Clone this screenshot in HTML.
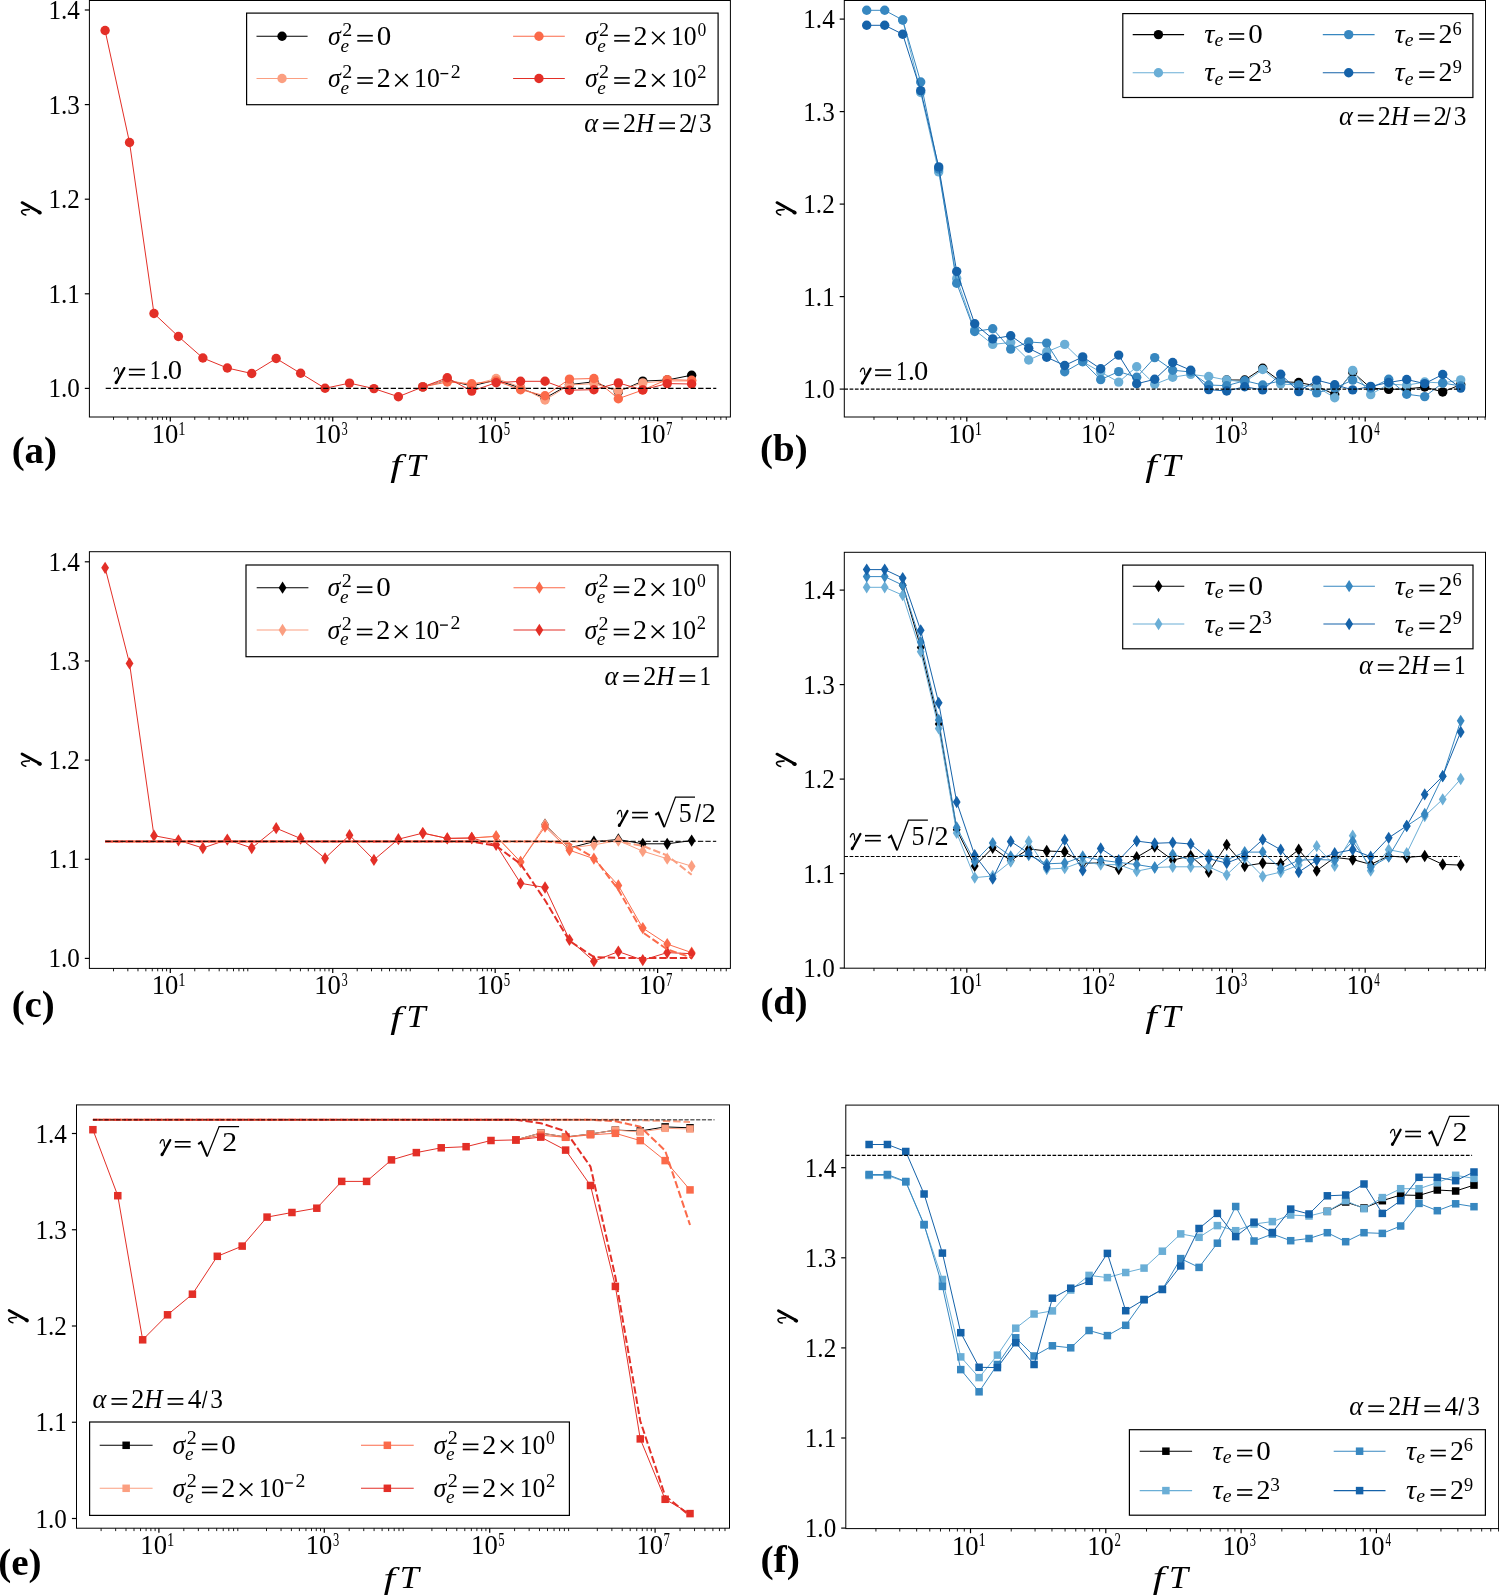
<!DOCTYPE html>
<html><head><meta charset="utf-8"><style>
html,body{margin:0;padding:0;background:#fff;overflow:hidden;}
svg{display:block;will-change:transform;}
</style></head><body>
<svg width="1499" height="1595" viewBox="0 0 1499 1595" font-family='"Liberation Serif", serif'>
<rect width="1499" height="1595" fill="#fff"/>
<rect x="89.4" y="0.5" width="641" height="416.5" fill="none" stroke="#000" stroke-width="1.0"/>
<line x1="84.8" y1="388.4" x2="89.4" y2="388.4" stroke="#000" stroke-width="1.2"/>
<text x="79.8" y="397.4" font-size="26.8" text-anchor="end" textLength="31.4" lengthAdjust="spacingAndGlyphs">1.0</text>
<line x1="84.8" y1="293.8" x2="89.4" y2="293.8" stroke="#000" stroke-width="1.2"/>
<text x="79.8" y="302.8" font-size="26.8" text-anchor="end" textLength="31.4" lengthAdjust="spacingAndGlyphs">1.1</text>
<line x1="84.8" y1="199.2" x2="89.4" y2="199.2" stroke="#000" stroke-width="1.2"/>
<text x="79.8" y="208.2" font-size="26.8" text-anchor="end" textLength="31.4" lengthAdjust="spacingAndGlyphs">1.2</text>
<line x1="84.8" y1="104.6" x2="89.4" y2="104.6" stroke="#000" stroke-width="1.2"/>
<text x="79.8" y="113.6" font-size="26.8" text-anchor="end" textLength="31.4" lengthAdjust="spacingAndGlyphs">1.3</text>
<line x1="84.8" y1="10" x2="89.4" y2="10" stroke="#000" stroke-width="1.2"/>
<text x="79.8" y="19" font-size="26.8" text-anchor="end" textLength="31.4" lengthAdjust="spacingAndGlyphs">1.4</text>
<line x1="113.53" y1="417" x2="113.53" y2="419.9" stroke="#000" stroke-width="0.9"/>
<line x1="127.83" y1="417" x2="127.83" y2="419.9" stroke="#000" stroke-width="0.9"/>
<line x1="137.98" y1="417" x2="137.98" y2="419.9" stroke="#000" stroke-width="0.9"/>
<line x1="145.85" y1="417" x2="145.85" y2="419.9" stroke="#000" stroke-width="0.9"/>
<line x1="152.28" y1="417" x2="152.28" y2="419.9" stroke="#000" stroke-width="0.9"/>
<line x1="157.72" y1="417" x2="157.72" y2="419.9" stroke="#000" stroke-width="0.9"/>
<line x1="162.43" y1="417" x2="162.43" y2="419.9" stroke="#000" stroke-width="0.9"/>
<line x1="166.58" y1="417" x2="166.58" y2="419.9" stroke="#000" stroke-width="0.9"/>
<line x1="170.3" y1="417" x2="170.3" y2="421.6" stroke="#000" stroke-width="1.2"/>
<text transform="matrix(0.9950 0 0 1 151.7 443)" font-size="26.8" fill="#000">10</text>
<text transform="matrix(0.7834 0 0 1 178.29 434.6)" font-size="18.6" fill="#000">1</text>
<line x1="194.75" y1="417" x2="194.75" y2="419.9" stroke="#000" stroke-width="0.9"/>
<line x1="209.05" y1="417" x2="209.05" y2="419.9" stroke="#000" stroke-width="0.9"/>
<line x1="219.2" y1="417" x2="219.2" y2="419.9" stroke="#000" stroke-width="0.9"/>
<line x1="227.07" y1="417" x2="227.07" y2="419.9" stroke="#000" stroke-width="0.9"/>
<line x1="233.5" y1="417" x2="233.5" y2="419.9" stroke="#000" stroke-width="0.9"/>
<line x1="238.94" y1="417" x2="238.94" y2="419.9" stroke="#000" stroke-width="0.9"/>
<line x1="243.65" y1="417" x2="243.65" y2="419.9" stroke="#000" stroke-width="0.9"/>
<line x1="247.8" y1="417" x2="247.8" y2="419.9" stroke="#000" stroke-width="0.9"/>
<line x1="275.97" y1="417" x2="275.97" y2="419.9" stroke="#000" stroke-width="0.9"/>
<line x1="290.27" y1="417" x2="290.27" y2="419.9" stroke="#000" stroke-width="0.9"/>
<line x1="300.42" y1="417" x2="300.42" y2="419.9" stroke="#000" stroke-width="0.9"/>
<line x1="308.29" y1="417" x2="308.29" y2="419.9" stroke="#000" stroke-width="0.9"/>
<line x1="314.72" y1="417" x2="314.72" y2="419.9" stroke="#000" stroke-width="0.9"/>
<line x1="320.16" y1="417" x2="320.16" y2="419.9" stroke="#000" stroke-width="0.9"/>
<line x1="324.87" y1="417" x2="324.87" y2="419.9" stroke="#000" stroke-width="0.9"/>
<line x1="329.02" y1="417" x2="329.02" y2="419.9" stroke="#000" stroke-width="0.9"/>
<line x1="332.74" y1="417" x2="332.74" y2="421.6" stroke="#000" stroke-width="1.2"/>
<text transform="matrix(0.9950 0 0 1 314.14 443)" font-size="26.8" fill="#000">10</text>
<text transform="matrix(0.6688 0 0 1 341.42 434.6)" font-size="18.6" fill="#000">3</text>
<line x1="357.19" y1="417" x2="357.19" y2="419.9" stroke="#000" stroke-width="0.9"/>
<line x1="371.49" y1="417" x2="371.49" y2="419.9" stroke="#000" stroke-width="0.9"/>
<line x1="381.64" y1="417" x2="381.64" y2="419.9" stroke="#000" stroke-width="0.9"/>
<line x1="389.51" y1="417" x2="389.51" y2="419.9" stroke="#000" stroke-width="0.9"/>
<line x1="395.94" y1="417" x2="395.94" y2="419.9" stroke="#000" stroke-width="0.9"/>
<line x1="401.38" y1="417" x2="401.38" y2="419.9" stroke="#000" stroke-width="0.9"/>
<line x1="406.09" y1="417" x2="406.09" y2="419.9" stroke="#000" stroke-width="0.9"/>
<line x1="410.24" y1="417" x2="410.24" y2="419.9" stroke="#000" stroke-width="0.9"/>
<line x1="438.41" y1="417" x2="438.41" y2="419.9" stroke="#000" stroke-width="0.9"/>
<line x1="452.71" y1="417" x2="452.71" y2="419.9" stroke="#000" stroke-width="0.9"/>
<line x1="462.86" y1="417" x2="462.86" y2="419.9" stroke="#000" stroke-width="0.9"/>
<line x1="470.73" y1="417" x2="470.73" y2="419.9" stroke="#000" stroke-width="0.9"/>
<line x1="477.16" y1="417" x2="477.16" y2="419.9" stroke="#000" stroke-width="0.9"/>
<line x1="482.6" y1="417" x2="482.6" y2="419.9" stroke="#000" stroke-width="0.9"/>
<line x1="487.31" y1="417" x2="487.31" y2="419.9" stroke="#000" stroke-width="0.9"/>
<line x1="491.46" y1="417" x2="491.46" y2="419.9" stroke="#000" stroke-width="0.9"/>
<line x1="495.18" y1="417" x2="495.18" y2="421.6" stroke="#000" stroke-width="1.2"/>
<text transform="matrix(0.9950 0 0 1 476.58 443)" font-size="26.8" fill="#000">10</text>
<text transform="matrix(0.6855 0 0 1 503.72 434.6)" font-size="18.6" fill="#000">5</text>
<line x1="519.63" y1="417" x2="519.63" y2="419.9" stroke="#000" stroke-width="0.9"/>
<line x1="533.93" y1="417" x2="533.93" y2="419.9" stroke="#000" stroke-width="0.9"/>
<line x1="544.08" y1="417" x2="544.08" y2="419.9" stroke="#000" stroke-width="0.9"/>
<line x1="551.95" y1="417" x2="551.95" y2="419.9" stroke="#000" stroke-width="0.9"/>
<line x1="558.38" y1="417" x2="558.38" y2="419.9" stroke="#000" stroke-width="0.9"/>
<line x1="563.82" y1="417" x2="563.82" y2="419.9" stroke="#000" stroke-width="0.9"/>
<line x1="568.53" y1="417" x2="568.53" y2="419.9" stroke="#000" stroke-width="0.9"/>
<line x1="572.68" y1="417" x2="572.68" y2="419.9" stroke="#000" stroke-width="0.9"/>
<line x1="600.85" y1="417" x2="600.85" y2="419.9" stroke="#000" stroke-width="0.9"/>
<line x1="615.15" y1="417" x2="615.15" y2="419.9" stroke="#000" stroke-width="0.9"/>
<line x1="625.3" y1="417" x2="625.3" y2="419.9" stroke="#000" stroke-width="0.9"/>
<line x1="633.17" y1="417" x2="633.17" y2="419.9" stroke="#000" stroke-width="0.9"/>
<line x1="639.6" y1="417" x2="639.6" y2="419.9" stroke="#000" stroke-width="0.9"/>
<line x1="645.04" y1="417" x2="645.04" y2="419.9" stroke="#000" stroke-width="0.9"/>
<line x1="649.75" y1="417" x2="649.75" y2="419.9" stroke="#000" stroke-width="0.9"/>
<line x1="653.9" y1="417" x2="653.9" y2="419.9" stroke="#000" stroke-width="0.9"/>
<line x1="657.62" y1="417" x2="657.62" y2="421.6" stroke="#000" stroke-width="1.2"/>
<text transform="matrix(0.9950 0 0 1 639.02 443)" font-size="26.8" fill="#000">10</text>
<text transform="matrix(0.6855 0 0 1 666.03 434.6)" font-size="18.6" fill="#000">7</text>
<line x1="682.07" y1="417" x2="682.07" y2="419.9" stroke="#000" stroke-width="0.9"/>
<line x1="696.37" y1="417" x2="696.37" y2="419.9" stroke="#000" stroke-width="0.9"/>
<line x1="706.52" y1="417" x2="706.52" y2="419.9" stroke="#000" stroke-width="0.9"/>
<line x1="714.39" y1="417" x2="714.39" y2="419.9" stroke="#000" stroke-width="0.9"/>
<line x1="720.82" y1="417" x2="720.82" y2="419.9" stroke="#000" stroke-width="0.9"/>
<line x1="726.26" y1="417" x2="726.26" y2="419.9" stroke="#000" stroke-width="0.9"/>
<text transform="matrix(0.4158 0 0 0.3120 390.33 476.15)" font-size="100" font-style="italic">f</text>
<text transform="matrix(0.3444 0 0 0.3262 406.59 475.9)" font-size="100" font-style="italic">T</text>
<g transform="translate(35.39,215.57) rotate(-90) scale(1.223529411764706)"><path d="M0.5,-7.9 C1.2,-10.3 2.2,-11.3 3.3,-11.3 C4.7,-11.3 4.7,-8.6 4.9,-5.0" fill="none" stroke="#000" stroke-width="1.25" stroke-linecap="round"/><path d="M10.6,-10.9 L2.8,3.4" fill="none" stroke="#000" stroke-width="2.3" stroke-linecap="round"/><ellipse cx="2.5" cy="3.4" rx="1.55" ry="1.9" transform="rotate(25 2.5 3.4)"/></g>
<text transform="matrix(0.3889 0 0 0.3711 11.64 462.81)" font-size="100" font-weight="bold">(a)</text>
<polyline points="422.82,386.9 447.26,380 471.7,386 496.14,380 520.58,388 545.02,398 569.46,384.6 593.9,381.8 618.34,391.7 642.78,381.1 667.22,380 691.66,375.2" fill="none" stroke="#000000" stroke-width="1.0" stroke-linejoin="round"/>
<circle cx="422.82" cy="386.9" r="4.7" fill="#000000"/><circle cx="447.26" cy="380" r="4.7" fill="#000000"/><circle cx="471.7" cy="386" r="4.7" fill="#000000"/><circle cx="496.14" cy="380" r="4.7" fill="#000000"/><circle cx="520.58" cy="388" r="4.7" fill="#000000"/><circle cx="545.02" cy="398" r="4.7" fill="#000000"/><circle cx="569.46" cy="384.6" r="4.7" fill="#000000"/><circle cx="593.9" cy="381.8" r="4.7" fill="#000000"/><circle cx="618.34" cy="391.7" r="4.7" fill="#000000"/><circle cx="642.78" cy="381.1" r="4.7" fill="#000000"/><circle cx="667.22" cy="380" r="4.7" fill="#000000"/><circle cx="691.66" cy="375.2" r="4.7" fill="#000000"/>
<polyline points="422.82,386.9 447.26,380 471.7,385 496.14,378.5 520.58,387 545.02,400 569.46,385 593.9,383.6 618.34,391 642.78,382.9 667.22,381 691.66,381" fill="none" stroke="#fb9f81" stroke-width="1.0" stroke-linejoin="round"/>
<circle cx="422.82" cy="386.9" r="4.7" fill="#fb9f81"/><circle cx="447.26" cy="380" r="4.7" fill="#fb9f81"/><circle cx="471.7" cy="385" r="4.7" fill="#fb9f81"/><circle cx="496.14" cy="378.5" r="4.7" fill="#fb9f81"/><circle cx="520.58" cy="387" r="4.7" fill="#fb9f81"/><circle cx="545.02" cy="400" r="4.7" fill="#fb9f81"/><circle cx="569.46" cy="385" r="4.7" fill="#fb9f81"/><circle cx="593.9" cy="383.6" r="4.7" fill="#fb9f81"/><circle cx="618.34" cy="391" r="4.7" fill="#fb9f81"/><circle cx="642.78" cy="382.9" r="4.7" fill="#fb9f81"/><circle cx="667.22" cy="381" r="4.7" fill="#fb9f81"/><circle cx="691.66" cy="381" r="4.7" fill="#fb9f81"/>
<polyline points="422.82,386.9 447.26,382 471.7,383.7 496.14,381 520.58,389.7 545.02,395.8 569.46,379.1 593.9,378.5 618.34,398.7 642.78,390 667.22,379.6 691.66,380.3" fill="none" stroke="#fb6a4a" stroke-width="1.0" stroke-linejoin="round"/>
<circle cx="422.82" cy="386.9" r="4.7" fill="#fb6a4a"/><circle cx="447.26" cy="382" r="4.7" fill="#fb6a4a"/><circle cx="471.7" cy="383.7" r="4.7" fill="#fb6a4a"/><circle cx="496.14" cy="381" r="4.7" fill="#fb6a4a"/><circle cx="520.58" cy="389.7" r="4.7" fill="#fb6a4a"/><circle cx="545.02" cy="395.8" r="4.7" fill="#fb6a4a"/><circle cx="569.46" cy="379.1" r="4.7" fill="#fb6a4a"/><circle cx="593.9" cy="378.5" r="4.7" fill="#fb6a4a"/><circle cx="618.34" cy="398.7" r="4.7" fill="#fb6a4a"/><circle cx="642.78" cy="390" r="4.7" fill="#fb6a4a"/><circle cx="667.22" cy="379.6" r="4.7" fill="#fb6a4a"/><circle cx="691.66" cy="380.3" r="4.7" fill="#fb6a4a"/>
<polyline points="105.1,30.5 129.54,142.5 153.98,313.5 178.42,336.5 202.86,358 227.3,368 251.74,373.5 276.18,358.5 300.62,373.3 325.06,388.3 349.5,383.1 373.94,388.6 398.38,396.7 422.82,386.9 447.26,377.8 471.7,391.1 496.14,382.7 520.58,381.3 545.02,381.3 569.46,390.2 593.9,389.7 618.34,382.9 642.78,389.9 667.22,383.6 691.66,384" fill="none" stroke="#e32f27" stroke-width="1.0" stroke-linejoin="round"/>
<circle cx="105.1" cy="30.5" r="4.7" fill="#e32f27"/><circle cx="129.54" cy="142.5" r="4.7" fill="#e32f27"/><circle cx="153.98" cy="313.5" r="4.7" fill="#e32f27"/><circle cx="178.42" cy="336.5" r="4.7" fill="#e32f27"/><circle cx="202.86" cy="358" r="4.7" fill="#e32f27"/><circle cx="227.3" cy="368" r="4.7" fill="#e32f27"/><circle cx="251.74" cy="373.5" r="4.7" fill="#e32f27"/><circle cx="276.18" cy="358.5" r="4.7" fill="#e32f27"/><circle cx="300.62" cy="373.3" r="4.7" fill="#e32f27"/><circle cx="325.06" cy="388.3" r="4.7" fill="#e32f27"/><circle cx="349.5" cy="383.1" r="4.7" fill="#e32f27"/><circle cx="373.94" cy="388.6" r="4.7" fill="#e32f27"/><circle cx="398.38" cy="396.7" r="4.7" fill="#e32f27"/><circle cx="422.82" cy="386.9" r="4.7" fill="#e32f27"/><circle cx="447.26" cy="377.8" r="4.7" fill="#e32f27"/><circle cx="471.7" cy="391.1" r="4.7" fill="#e32f27"/><circle cx="496.14" cy="382.7" r="4.7" fill="#e32f27"/><circle cx="520.58" cy="381.3" r="4.7" fill="#e32f27"/><circle cx="545.02" cy="381.3" r="4.7" fill="#e32f27"/><circle cx="569.46" cy="390.2" r="4.7" fill="#e32f27"/><circle cx="593.9" cy="389.7" r="4.7" fill="#e32f27"/><circle cx="618.34" cy="382.9" r="4.7" fill="#e32f27"/><circle cx="642.78" cy="389.9" r="4.7" fill="#e32f27"/><circle cx="667.22" cy="383.6" r="4.7" fill="#e32f27"/><circle cx="691.66" cy="384" r="4.7" fill="#e32f27"/>
<line x1="105.7" y1="388.4" x2="716.3" y2="388.4" stroke="#000" stroke-width="1.2" stroke-dasharray="5.3 2.2"/>
<g transform="translate(113.7,379) scale(1.0)"><path d="M0.5,-7.9 C1.2,-10.3 2.2,-11.3 3.3,-11.3 C4.7,-11.3 4.7,-8.6 4.9,-5.0" fill="none" stroke="#000" stroke-width="1.25" stroke-linecap="round"/><path d="M10.6,-10.9 L2.8,3.4" fill="none" stroke="#000" stroke-width="2.3" stroke-linecap="round"/><ellipse cx="2.5" cy="3.4" rx="1.55" ry="1.9" transform="rotate(25 2.5 3.4)"/></g><rect x="128.9" y="368.7" width="16" height="1.6"/><rect x="128.9" y="374" width="16" height="1.6"/><text transform="matrix(0.8378 0 0 1 149.79 379)" font-size="26.6" fill="#000">1</text><text transform="matrix(1.0253 0 0 1 161.89 379)" font-size="26.6" fill="#000">.</text><text transform="matrix(1.0741 0 0 1 167.76 379)" font-size="26.6" fill="#000">0</text>
<text transform="matrix(0.9951 0 0 1 584.21 132.3)" font-size="26.6" font-style="italic" fill="#000">α</text><rect x="603.2" y="122.3" width="15.7" height="1.6"/><rect x="603.2" y="127.6" width="15.7" height="1.6"/><text transform="matrix(0.9774 0 0 1 623.06 132.3)" font-size="26.6" fill="#000">2</text><text transform="matrix(0.9543 0 0 1 636.05 132.3)" font-size="26.6" font-style="italic" fill="#000">H</text><rect x="659.3" y="122.3" width="15.7" height="1.6"/><rect x="659.3" y="127.6" width="15.7" height="1.6"/><text transform="matrix(1.0150 0 0 1 678.92 132.3)" font-size="26.6" fill="#000">2</text><path d="M691.1 132.5L695.4 115.1" stroke="#000" stroke-width="1.45" fill="none"/><text transform="matrix(0.9536 0 0 1 698.93 132.3)" font-size="26.6" fill="#000">3</text>
<rect x="246.6" y="13.1" width="471.5" height="91.6" fill="#fff" stroke="#000" stroke-width="1.2"/>
<line x1="256.5" y1="36.3" x2="307.6" y2="36.3" stroke="#000000" stroke-width="1.1"/>
<circle cx="282.05" cy="36.3" r="4.7" fill="#000000"/>
<text transform="matrix(0.9744 0 0 1 328.02 45)" font-size="26.6" font-style="italic" fill="#000">σ</text><text transform="matrix(1.0753 0 0 1 342.2 35.8)" font-size="18.6" fill="#000">2</text><text transform="matrix(1.0339 0 0 1 340.42 51.6)" font-size="18.6" font-style="italic" fill="#000">e</text><rect x="357.3" y="34.9" width="15.5" height="1.6"/><rect x="357.3" y="40.1" width="15.5" height="1.6"/><text transform="matrix(1.0920 0 0 1 376.64 45)" font-size="26.6" fill="#000">0</text>
<line x1="256.5" y1="78.5" x2="307.6" y2="78.5" stroke="#fb9f81" stroke-width="1.1"/>
<circle cx="282.05" cy="78.5" r="4.7" fill="#fb9f81"/>
<text transform="matrix(0.9744 0 0 1 328.02 87.2)" font-size="26.6" font-style="italic" fill="#000">σ</text><text transform="matrix(1.0753 0 0 1 342.2 78)" font-size="18.6" fill="#000">2</text><text transform="matrix(1.0339 0 0 1 340.42 93.8)" font-size="18.6" font-style="italic" fill="#000">e</text><rect x="357.3" y="77.1" width="15.5" height="1.6"/><rect x="357.3" y="82.3" width="15.5" height="1.6"/><text transform="matrix(1.0526 0 0 1 376.68 87.2)" font-size="26.6" fill="#000">2</text><path d="M395.2 74L407.8 86.4M407.8 74L395.2 86.4" stroke="#000" stroke-width="1.55" fill="none"/><text transform="matrix(0.9679 0 0 1 414.08 87.2)" font-size="26.6" fill="#000">10</text><rect x="440.4" y="72.95" width="7.9" height="1.3"/><text transform="matrix(1.0618 0 0 1 450.81 77.9)" font-size="18.6" fill="#000">2</text>
<line x1="513.1" y1="36.3" x2="564.8" y2="36.3" stroke="#fb6a4a" stroke-width="1.1"/>
<circle cx="538.95" cy="36.3" r="4.7" fill="#fb6a4a"/>
<text transform="matrix(0.9744 0 0 1 584.92 45)" font-size="26.6" font-style="italic" fill="#000">σ</text><text transform="matrix(1.0753 0 0 1 599.1 35.8)" font-size="18.6" fill="#000">2</text><text transform="matrix(1.0339 0 0 1 597.32 51.6)" font-size="18.6" font-style="italic" fill="#000">e</text><rect x="614.2" y="34.9" width="15.5" height="1.6"/><rect x="614.2" y="40.1" width="15.5" height="1.6"/><text transform="matrix(1.0526 0 0 1 633.58 45)" font-size="26.6" fill="#000">2</text><path d="M652.1 31.8L664.7 44.2M664.7 31.8L652.1 44.2" stroke="#000" stroke-width="1.55" fill="none"/><text transform="matrix(0.9679 0 0 1 670.98 45)" font-size="26.6" fill="#000">10</text><text transform="matrix(0.9473 0 0 1 697.4 35.7)" font-size="18.6" fill="#000">0</text>
<line x1="513.1" y1="78.5" x2="564.8" y2="78.5" stroke="#e32f27" stroke-width="1.1"/>
<circle cx="538.95" cy="78.5" r="4.7" fill="#e32f27"/>
<text transform="matrix(0.9744 0 0 1 584.92 87.2)" font-size="26.6" font-style="italic" fill="#000">σ</text><text transform="matrix(1.0753 0 0 1 599.1 78)" font-size="18.6" fill="#000">2</text><text transform="matrix(1.0339 0 0 1 597.32 93.8)" font-size="18.6" font-style="italic" fill="#000">e</text><rect x="614.2" y="77.1" width="15.5" height="1.6"/><rect x="614.2" y="82.3" width="15.5" height="1.6"/><text transform="matrix(1.0526 0 0 1 633.58 87.2)" font-size="26.6" fill="#000">2</text><path d="M652.1 74L664.7 86.4M664.7 74L652.1 86.4" stroke="#000" stroke-width="1.55" fill="none"/><text transform="matrix(0.9679 0 0 1 670.98 87.2)" font-size="26.6" fill="#000">10</text><text transform="matrix(0.9946 0 0 1 697.36 77.9)" font-size="18.6" fill="#000">2</text>
<rect x="844.3" y="0.5" width="641.2" height="416.5" fill="none" stroke="#000" stroke-width="1.0"/>
<line x1="839.7" y1="389.1" x2="844.3" y2="389.1" stroke="#000" stroke-width="1.2"/>
<text x="834.7" y="398.1" font-size="26.8" text-anchor="end" textLength="31.4" lengthAdjust="spacingAndGlyphs">1.0</text>
<line x1="839.7" y1="296.6" x2="844.3" y2="296.6" stroke="#000" stroke-width="1.2"/>
<text x="834.7" y="305.6" font-size="26.8" text-anchor="end" textLength="31.4" lengthAdjust="spacingAndGlyphs">1.1</text>
<line x1="839.7" y1="204.1" x2="844.3" y2="204.1" stroke="#000" stroke-width="1.2"/>
<text x="834.7" y="213.1" font-size="26.8" text-anchor="end" textLength="31.4" lengthAdjust="spacingAndGlyphs">1.2</text>
<line x1="839.7" y1="111.6" x2="844.3" y2="111.6" stroke="#000" stroke-width="1.2"/>
<text x="834.7" y="120.6" font-size="26.8" text-anchor="end" textLength="31.4" lengthAdjust="spacingAndGlyphs">1.3</text>
<line x1="839.7" y1="19.1" x2="844.3" y2="19.1" stroke="#000" stroke-width="1.2"/>
<text x="834.7" y="28.1" font-size="26.8" text-anchor="end" textLength="31.4" lengthAdjust="spacingAndGlyphs">1.4</text>
<line x1="873.98" y1="417" x2="873.98" y2="419.9" stroke="#000" stroke-width="0.9"/>
<line x1="897.36" y1="417" x2="897.36" y2="419.9" stroke="#000" stroke-width="0.9"/>
<line x1="913.95" y1="417" x2="913.95" y2="419.9" stroke="#000" stroke-width="0.9"/>
<line x1="926.82" y1="417" x2="926.82" y2="419.9" stroke="#000" stroke-width="0.9"/>
<line x1="937.34" y1="417" x2="937.34" y2="419.9" stroke="#000" stroke-width="0.9"/>
<line x1="946.23" y1="417" x2="946.23" y2="419.9" stroke="#000" stroke-width="0.9"/>
<line x1="953.93" y1="417" x2="953.93" y2="419.9" stroke="#000" stroke-width="0.9"/>
<line x1="960.72" y1="417" x2="960.72" y2="419.9" stroke="#000" stroke-width="0.9"/>
<line x1="966.8" y1="417" x2="966.8" y2="421.6" stroke="#000" stroke-width="1.2"/>
<text transform="matrix(0.9950 0 0 1 948.2 443)" font-size="26.8" fill="#000">10</text>
<text transform="matrix(0.7834 0 0 1 974.79 434.6)" font-size="18.6" fill="#000">1</text>
<line x1="1006.78" y1="417" x2="1006.78" y2="419.9" stroke="#000" stroke-width="0.9"/>
<line x1="1030.16" y1="417" x2="1030.16" y2="419.9" stroke="#000" stroke-width="0.9"/>
<line x1="1046.75" y1="417" x2="1046.75" y2="419.9" stroke="#000" stroke-width="0.9"/>
<line x1="1059.62" y1="417" x2="1059.62" y2="419.9" stroke="#000" stroke-width="0.9"/>
<line x1="1070.14" y1="417" x2="1070.14" y2="419.9" stroke="#000" stroke-width="0.9"/>
<line x1="1079.03" y1="417" x2="1079.03" y2="419.9" stroke="#000" stroke-width="0.9"/>
<line x1="1086.73" y1="417" x2="1086.73" y2="419.9" stroke="#000" stroke-width="0.9"/>
<line x1="1093.52" y1="417" x2="1093.52" y2="419.9" stroke="#000" stroke-width="0.9"/>
<line x1="1099.6" y1="417" x2="1099.6" y2="421.6" stroke="#000" stroke-width="1.2"/>
<text transform="matrix(0.9950 0 0 1 1081 443)" font-size="26.8" fill="#000">10</text>
<text transform="matrix(0.6855 0 0 1 1108.39 434.6)" font-size="18.6" fill="#000">2</text>
<line x1="1139.58" y1="417" x2="1139.58" y2="419.9" stroke="#000" stroke-width="0.9"/>
<line x1="1162.96" y1="417" x2="1162.96" y2="419.9" stroke="#000" stroke-width="0.9"/>
<line x1="1179.55" y1="417" x2="1179.55" y2="419.9" stroke="#000" stroke-width="0.9"/>
<line x1="1192.42" y1="417" x2="1192.42" y2="419.9" stroke="#000" stroke-width="0.9"/>
<line x1="1202.94" y1="417" x2="1202.94" y2="419.9" stroke="#000" stroke-width="0.9"/>
<line x1="1211.83" y1="417" x2="1211.83" y2="419.9" stroke="#000" stroke-width="0.9"/>
<line x1="1219.53" y1="417" x2="1219.53" y2="419.9" stroke="#000" stroke-width="0.9"/>
<line x1="1226.32" y1="417" x2="1226.32" y2="419.9" stroke="#000" stroke-width="0.9"/>
<line x1="1232.4" y1="417" x2="1232.4" y2="421.6" stroke="#000" stroke-width="1.2"/>
<text transform="matrix(0.9950 0 0 1 1213.8 443)" font-size="26.8" fill="#000">10</text>
<text transform="matrix(0.6688 0 0 1 1241.08 434.6)" font-size="18.6" fill="#000">3</text>
<line x1="1272.38" y1="417" x2="1272.38" y2="419.9" stroke="#000" stroke-width="0.9"/>
<line x1="1295.76" y1="417" x2="1295.76" y2="419.9" stroke="#000" stroke-width="0.9"/>
<line x1="1312.35" y1="417" x2="1312.35" y2="419.9" stroke="#000" stroke-width="0.9"/>
<line x1="1325.22" y1="417" x2="1325.22" y2="419.9" stroke="#000" stroke-width="0.9"/>
<line x1="1335.74" y1="417" x2="1335.74" y2="419.9" stroke="#000" stroke-width="0.9"/>
<line x1="1344.63" y1="417" x2="1344.63" y2="419.9" stroke="#000" stroke-width="0.9"/>
<line x1="1352.33" y1="417" x2="1352.33" y2="419.9" stroke="#000" stroke-width="0.9"/>
<line x1="1359.12" y1="417" x2="1359.12" y2="419.9" stroke="#000" stroke-width="0.9"/>
<line x1="1365.2" y1="417" x2="1365.2" y2="421.6" stroke="#000" stroke-width="1.2"/>
<text transform="matrix(0.9950 0 0 1 1346.6 443)" font-size="26.8" fill="#000">10</text>
<text transform="matrix(0.5961 0 0 1 1374.28 434.6)" font-size="18.6" fill="#000">4</text>
<line x1="1405.18" y1="417" x2="1405.18" y2="419.9" stroke="#000" stroke-width="0.9"/>
<line x1="1428.56" y1="417" x2="1428.56" y2="419.9" stroke="#000" stroke-width="0.9"/>
<line x1="1445.15" y1="417" x2="1445.15" y2="419.9" stroke="#000" stroke-width="0.9"/>
<line x1="1458.02" y1="417" x2="1458.02" y2="419.9" stroke="#000" stroke-width="0.9"/>
<line x1="1468.54" y1="417" x2="1468.54" y2="419.9" stroke="#000" stroke-width="0.9"/>
<line x1="1477.43" y1="417" x2="1477.43" y2="419.9" stroke="#000" stroke-width="0.9"/>
<line x1="1485.13" y1="417" x2="1485.13" y2="419.9" stroke="#000" stroke-width="0.9"/>
<text transform="matrix(0.4158 0 0 0.3120 1145.33 476.15)" font-size="100" font-style="italic">f</text>
<text transform="matrix(0.3444 0 0 0.3262 1161.59 475.9)" font-size="100" font-style="italic">T</text>
<g transform="translate(790.29,215.57) rotate(-90) scale(1.223529411764706)"><path d="M0.5,-7.9 C1.2,-10.3 2.2,-11.3 3.3,-11.3 C4.7,-11.3 4.7,-8.6 4.9,-5.0" fill="none" stroke="#000" stroke-width="1.25" stroke-linecap="round"/><path d="M10.6,-10.9 L2.8,3.4" fill="none" stroke="#000" stroke-width="2.3" stroke-linecap="round"/><ellipse cx="2.5" cy="3.4" rx="1.55" ry="1.9" transform="rotate(25 2.5 3.4)"/></g>
<text transform="matrix(0.3895 0 0 0.3689 760.04 461.45)" font-size="100" font-weight="bold">(b)</text>
<polyline points="1226.7,380 1244.7,380 1262.7,368.2 1280.7,381.6 1298.7,382.5 1316.7,386 1334.7,394.6 1352.7,372.1 1370.7,388 1388.7,389.4 1406.7,388.9 1424.7,387 1442.7,392 1460.7,384.6" fill="none" stroke="#000000" stroke-width="1.0" stroke-linejoin="round"/>
<circle cx="1226.7" cy="380" r="4.7" fill="#000000"/><circle cx="1244.7" cy="380" r="4.7" fill="#000000"/><circle cx="1262.7" cy="368.2" r="4.7" fill="#000000"/><circle cx="1280.7" cy="381.6" r="4.7" fill="#000000"/><circle cx="1298.7" cy="382.5" r="4.7" fill="#000000"/><circle cx="1316.7" cy="386" r="4.7" fill="#000000"/><circle cx="1334.7" cy="394.6" r="4.7" fill="#000000"/><circle cx="1352.7" cy="372.1" r="4.7" fill="#000000"/><circle cx="1370.7" cy="388" r="4.7" fill="#000000"/><circle cx="1388.7" cy="389.4" r="4.7" fill="#000000"/><circle cx="1406.7" cy="388.9" r="4.7" fill="#000000"/><circle cx="1424.7" cy="387" r="4.7" fill="#000000"/><circle cx="1442.7" cy="392" r="4.7" fill="#000000"/><circle cx="1460.7" cy="384.6" r="4.7" fill="#000000"/>
<polyline points="902.7,20 920.7,92.5 938.7,171.9 956.7,278.5 974.7,330 992.7,344.4 1010.7,342.5 1028.7,360 1046.7,351.9 1064.7,344.4 1082.7,361.8 1100.7,372 1118.7,382.1 1136.7,366.7 1154.7,384.3 1172.7,377.2 1190.7,374.4 1208.7,376.5 1226.7,380 1244.7,382 1262.7,369.5 1280.7,384 1298.7,385.1 1316.7,386.8 1334.7,397.7 1352.7,370.4 1370.7,394.6 1388.7,384 1406.7,385.2 1424.7,382 1442.7,383 1460.7,379.9" fill="none" stroke="#6aaed6" stroke-width="1.0" stroke-linejoin="round"/>
<circle cx="902.7" cy="20" r="4.7" fill="#6aaed6"/><circle cx="920.7" cy="92.5" r="4.7" fill="#6aaed6"/><circle cx="938.7" cy="171.9" r="4.7" fill="#6aaed6"/><circle cx="956.7" cy="278.5" r="4.7" fill="#6aaed6"/><circle cx="974.7" cy="330" r="4.7" fill="#6aaed6"/><circle cx="992.7" cy="344.4" r="4.7" fill="#6aaed6"/><circle cx="1010.7" cy="342.5" r="4.7" fill="#6aaed6"/><circle cx="1028.7" cy="360" r="4.7" fill="#6aaed6"/><circle cx="1046.7" cy="351.9" r="4.7" fill="#6aaed6"/><circle cx="1064.7" cy="344.4" r="4.7" fill="#6aaed6"/><circle cx="1082.7" cy="361.8" r="4.7" fill="#6aaed6"/><circle cx="1100.7" cy="372" r="4.7" fill="#6aaed6"/><circle cx="1118.7" cy="382.1" r="4.7" fill="#6aaed6"/><circle cx="1136.7" cy="366.7" r="4.7" fill="#6aaed6"/><circle cx="1154.7" cy="384.3" r="4.7" fill="#6aaed6"/><circle cx="1172.7" cy="377.2" r="4.7" fill="#6aaed6"/><circle cx="1190.7" cy="374.4" r="4.7" fill="#6aaed6"/><circle cx="1208.7" cy="376.5" r="4.7" fill="#6aaed6"/><circle cx="1226.7" cy="380" r="4.7" fill="#6aaed6"/><circle cx="1244.7" cy="382" r="4.7" fill="#6aaed6"/><circle cx="1262.7" cy="369.5" r="4.7" fill="#6aaed6"/><circle cx="1280.7" cy="384" r="4.7" fill="#6aaed6"/><circle cx="1298.7" cy="385.1" r="4.7" fill="#6aaed6"/><circle cx="1316.7" cy="386.8" r="4.7" fill="#6aaed6"/><circle cx="1334.7" cy="397.7" r="4.7" fill="#6aaed6"/><circle cx="1352.7" cy="370.4" r="4.7" fill="#6aaed6"/><circle cx="1370.7" cy="394.6" r="4.7" fill="#6aaed6"/><circle cx="1388.7" cy="384" r="4.7" fill="#6aaed6"/><circle cx="1406.7" cy="385.2" r="4.7" fill="#6aaed6"/><circle cx="1424.7" cy="382" r="4.7" fill="#6aaed6"/><circle cx="1442.7" cy="383" r="4.7" fill="#6aaed6"/><circle cx="1460.7" cy="379.9" r="4.7" fill="#6aaed6"/>
<polyline points="866.7,10.3 884.7,10.3 902.7,20 920.7,82 938.7,169 956.7,283.2 974.7,331.5 992.7,328.7 1010.7,349.1 1028.7,342 1046.7,343.1 1064.7,371.8 1082.7,361.6 1100.7,379.6 1118.7,371.6 1136.7,377.2 1154.7,357.6 1172.7,370.2 1190.7,372 1208.7,385 1226.7,385.7 1244.7,380.7 1262.7,385 1280.7,380.8 1298.7,385.1 1316.7,392.9 1334.7,388 1352.7,380.1 1370.7,388 1388.7,379.3 1406.7,394.2 1424.7,396.6 1442.7,383 1460.7,386" fill="none" stroke="#3787c0" stroke-width="1.0" stroke-linejoin="round"/>
<circle cx="866.7" cy="10.3" r="4.7" fill="#3787c0"/><circle cx="884.7" cy="10.3" r="4.7" fill="#3787c0"/><circle cx="902.7" cy="20" r="4.7" fill="#3787c0"/><circle cx="920.7" cy="82" r="4.7" fill="#3787c0"/><circle cx="938.7" cy="169" r="4.7" fill="#3787c0"/><circle cx="956.7" cy="283.2" r="4.7" fill="#3787c0"/><circle cx="974.7" cy="331.5" r="4.7" fill="#3787c0"/><circle cx="992.7" cy="328.7" r="4.7" fill="#3787c0"/><circle cx="1010.7" cy="349.1" r="4.7" fill="#3787c0"/><circle cx="1028.7" cy="342" r="4.7" fill="#3787c0"/><circle cx="1046.7" cy="343.1" r="4.7" fill="#3787c0"/><circle cx="1064.7" cy="371.8" r="4.7" fill="#3787c0"/><circle cx="1082.7" cy="361.6" r="4.7" fill="#3787c0"/><circle cx="1100.7" cy="379.6" r="4.7" fill="#3787c0"/><circle cx="1118.7" cy="371.6" r="4.7" fill="#3787c0"/><circle cx="1136.7" cy="377.2" r="4.7" fill="#3787c0"/><circle cx="1154.7" cy="357.6" r="4.7" fill="#3787c0"/><circle cx="1172.7" cy="370.2" r="4.7" fill="#3787c0"/><circle cx="1190.7" cy="372" r="4.7" fill="#3787c0"/><circle cx="1208.7" cy="385" r="4.7" fill="#3787c0"/><circle cx="1226.7" cy="385.7" r="4.7" fill="#3787c0"/><circle cx="1244.7" cy="380.7" r="4.7" fill="#3787c0"/><circle cx="1262.7" cy="385" r="4.7" fill="#3787c0"/><circle cx="1280.7" cy="380.8" r="4.7" fill="#3787c0"/><circle cx="1298.7" cy="385.1" r="4.7" fill="#3787c0"/><circle cx="1316.7" cy="392.9" r="4.7" fill="#3787c0"/><circle cx="1334.7" cy="388" r="4.7" fill="#3787c0"/><circle cx="1352.7" cy="380.1" r="4.7" fill="#3787c0"/><circle cx="1370.7" cy="388" r="4.7" fill="#3787c0"/><circle cx="1388.7" cy="379.3" r="4.7" fill="#3787c0"/><circle cx="1406.7" cy="394.2" r="4.7" fill="#3787c0"/><circle cx="1424.7" cy="396.6" r="4.7" fill="#3787c0"/><circle cx="1442.7" cy="383" r="4.7" fill="#3787c0"/><circle cx="1460.7" cy="386" r="4.7" fill="#3787c0"/>
<polyline points="866.7,25.3 884.7,25.3 902.7,34.2 920.7,90.6 938.7,166.9 956.7,271.5 974.7,323.7 992.7,338.9 1010.7,335.7 1028.7,348.3 1046.7,357.2 1064.7,365.5 1082.7,356.9 1100.7,368.8 1118.7,355.1 1136.7,383.8 1154.7,379.3 1172.7,362.5 1190.7,370.2 1208.7,389.6 1226.7,391 1244.7,386.8 1262.7,389.9 1280.7,374.3 1298.7,391.6 1316.7,380.1 1334.7,384.7 1352.7,389.9 1370.7,386.4 1388.7,382.5 1406.7,379.5 1424.7,383.6 1442.7,374.5 1460.7,388.1" fill="none" stroke="#1562a9" stroke-width="1.0" stroke-linejoin="round"/>
<circle cx="866.7" cy="25.3" r="4.7" fill="#1562a9"/><circle cx="884.7" cy="25.3" r="4.7" fill="#1562a9"/><circle cx="902.7" cy="34.2" r="4.7" fill="#1562a9"/><circle cx="920.7" cy="90.6" r="4.7" fill="#1562a9"/><circle cx="938.7" cy="166.9" r="4.7" fill="#1562a9"/><circle cx="956.7" cy="271.5" r="4.7" fill="#1562a9"/><circle cx="974.7" cy="323.7" r="4.7" fill="#1562a9"/><circle cx="992.7" cy="338.9" r="4.7" fill="#1562a9"/><circle cx="1010.7" cy="335.7" r="4.7" fill="#1562a9"/><circle cx="1028.7" cy="348.3" r="4.7" fill="#1562a9"/><circle cx="1046.7" cy="357.2" r="4.7" fill="#1562a9"/><circle cx="1064.7" cy="365.5" r="4.7" fill="#1562a9"/><circle cx="1082.7" cy="356.9" r="4.7" fill="#1562a9"/><circle cx="1100.7" cy="368.8" r="4.7" fill="#1562a9"/><circle cx="1118.7" cy="355.1" r="4.7" fill="#1562a9"/><circle cx="1136.7" cy="383.8" r="4.7" fill="#1562a9"/><circle cx="1154.7" cy="379.3" r="4.7" fill="#1562a9"/><circle cx="1172.7" cy="362.5" r="4.7" fill="#1562a9"/><circle cx="1190.7" cy="370.2" r="4.7" fill="#1562a9"/><circle cx="1208.7" cy="389.6" r="4.7" fill="#1562a9"/><circle cx="1226.7" cy="391" r="4.7" fill="#1562a9"/><circle cx="1244.7" cy="386.8" r="4.7" fill="#1562a9"/><circle cx="1262.7" cy="389.9" r="4.7" fill="#1562a9"/><circle cx="1280.7" cy="374.3" r="4.7" fill="#1562a9"/><circle cx="1298.7" cy="391.6" r="4.7" fill="#1562a9"/><circle cx="1316.7" cy="380.1" r="4.7" fill="#1562a9"/><circle cx="1334.7" cy="384.7" r="4.7" fill="#1562a9"/><circle cx="1352.7" cy="389.9" r="4.7" fill="#1562a9"/><circle cx="1370.7" cy="386.4" r="4.7" fill="#1562a9"/><circle cx="1388.7" cy="382.5" r="4.7" fill="#1562a9"/><circle cx="1406.7" cy="379.5" r="4.7" fill="#1562a9"/><circle cx="1424.7" cy="383.6" r="4.7" fill="#1562a9"/><circle cx="1442.7" cy="374.5" r="4.7" fill="#1562a9"/><circle cx="1460.7" cy="388.1" r="4.7" fill="#1562a9"/>
<line x1="844.3" y1="389.2" x2="1460.4" y2="389.2" stroke="#000" stroke-width="1.2" stroke-dasharray="3.7 1.6"/>
<g transform="translate(859.9,379.5) scale(1.0)"><path d="M0.5,-7.9 C1.2,-10.3 2.2,-11.3 3.3,-11.3 C4.7,-11.3 4.7,-8.6 4.9,-5.0" fill="none" stroke="#000" stroke-width="1.25" stroke-linecap="round"/><path d="M10.6,-10.9 L2.8,3.4" fill="none" stroke="#000" stroke-width="2.3" stroke-linecap="round"/><ellipse cx="2.5" cy="3.4" rx="1.55" ry="1.9" transform="rotate(25 2.5 3.4)"/></g><rect x="875.1" y="369.2" width="16" height="1.6"/><rect x="875.1" y="374.5" width="16" height="1.6"/><text transform="matrix(0.8378 0 0 1 895.99 379.5)" font-size="26.6" fill="#000">1</text><text transform="matrix(1.0253 0 0 1 908.09 379.5)" font-size="26.6" fill="#000">.</text><text transform="matrix(1.0741 0 0 1 913.96 379.5)" font-size="26.6" fill="#000">0</text>
<text transform="matrix(0.9951 0 0 1 1338.91 124.6)" font-size="26.6" font-style="italic" fill="#000">α</text><rect x="1357.9" y="114.6" width="15.7" height="1.6"/><rect x="1357.9" y="119.9" width="15.7" height="1.6"/><text transform="matrix(0.9774 0 0 1 1377.76 124.6)" font-size="26.6" fill="#000">2</text><text transform="matrix(0.9543 0 0 1 1390.75 124.6)" font-size="26.6" font-style="italic" fill="#000">H</text><rect x="1414" y="114.6" width="15.7" height="1.6"/><rect x="1414" y="119.9" width="15.7" height="1.6"/><text transform="matrix(1.0150 0 0 1 1433.62 124.6)" font-size="26.6" fill="#000">2</text><path d="M1445.8 124.8L1450.1 107.4" stroke="#000" stroke-width="1.45" fill="none"/><text transform="matrix(0.9536 0 0 1 1453.63 124.6)" font-size="26.6" fill="#000">3</text>
<rect x="1122.8" y="13.6" width="350.1" height="83.9" fill="#fff" stroke="#000" stroke-width="1.2"/>
<line x1="1132.7" y1="34.6" x2="1184.1" y2="34.6" stroke="#000000" stroke-width="1.1"/>
<circle cx="1158.4" cy="34.6" r="4.7" fill="#000000"/>
<text transform="matrix(1.0669 0 0 1 1204.33 43.1)" font-size="26.6" font-style="italic" fill="#000">τ</text><text transform="matrix(1.0615 0 0 1 1214.61 46.4)" font-size="18.6" font-style="italic" fill="#000">e</text><rect x="1229" y="33.1" width="15.2" height="1.6"/><rect x="1229" y="38.25" width="15.2" height="1.6"/><text transform="matrix(1.0920 0 0 1 1248.24 43.1)" font-size="26.6" fill="#000">0</text>
<line x1="1132.7" y1="72.8" x2="1184.1" y2="72.8" stroke="#6aaed6" stroke-width="1.1"/>
<circle cx="1158.4" cy="72.8" r="4.7" fill="#6aaed6"/>
<text transform="matrix(1.0669 0 0 1 1204.33 81.3)" font-size="26.6" font-style="italic" fill="#000">τ</text><text transform="matrix(1.0615 0 0 1 1214.61 84.6)" font-size="18.6" font-style="italic" fill="#000">e</text><rect x="1229" y="71.3" width="15.2" height="1.6"/><rect x="1229" y="76.45" width="15.2" height="1.6"/><text transform="matrix(1.0526 0 0 1 1248.28 81.3)" font-size="26.6" fill="#000">2</text><text transform="matrix(1.0359 0 0 1 1262.04 72.7)" font-size="18.6" fill="#000">3</text>
<line x1="1322.8" y1="34.6" x2="1374.6" y2="34.6" stroke="#3787c0" stroke-width="1.1"/>
<circle cx="1348.7" cy="34.6" r="4.7" fill="#3787c0"/>
<text transform="matrix(1.0669 0 0 1 1394.53 43.1)" font-size="26.6" font-style="italic" fill="#000">τ</text><text transform="matrix(1.0615 0 0 1 1404.81 46.4)" font-size="18.6" font-style="italic" fill="#000">e</text><rect x="1419.2" y="33.1" width="15.2" height="1.6"/><rect x="1419.2" y="38.25" width="15.2" height="1.6"/><text transform="matrix(1.0526 0 0 1 1438.48 43.1)" font-size="26.6" fill="#000">2</text><text transform="matrix(0.9877 0 0 1 1452.47 34.5)" font-size="18.6" fill="#000">6</text>
<line x1="1322.8" y1="72.8" x2="1374.6" y2="72.8" stroke="#1562a9" stroke-width="1.1"/>
<circle cx="1348.7" cy="72.8" r="4.7" fill="#1562a9"/>
<text transform="matrix(1.0669 0 0 1 1394.53 81.3)" font-size="26.6" font-style="italic" fill="#000">τ</text><text transform="matrix(1.0615 0 0 1 1404.81 84.6)" font-size="18.6" font-style="italic" fill="#000">e</text><rect x="1419.2" y="71.3" width="15.2" height="1.6"/><rect x="1419.2" y="76.45" width="15.2" height="1.6"/><text transform="matrix(1.0526 0 0 1 1438.48 81.3)" font-size="26.6" fill="#000">2</text><text transform="matrix(0.9877 0 0 1 1452.65 72.7)" font-size="18.6" fill="#000">9</text>
<rect x="89.4" y="551.7" width="641" height="416.7" fill="none" stroke="#000" stroke-width="1.0"/>
<line x1="84.8" y1="958.4" x2="89.4" y2="958.4" stroke="#000" stroke-width="1.2"/>
<text x="79.8" y="967.4" font-size="26.8" text-anchor="end" textLength="31.4" lengthAdjust="spacingAndGlyphs">1.0</text>
<line x1="84.8" y1="859.25" x2="89.4" y2="859.25" stroke="#000" stroke-width="1.2"/>
<text x="79.8" y="868.25" font-size="26.8" text-anchor="end" textLength="31.4" lengthAdjust="spacingAndGlyphs">1.1</text>
<line x1="84.8" y1="760.1" x2="89.4" y2="760.1" stroke="#000" stroke-width="1.2"/>
<text x="79.8" y="769.1" font-size="26.8" text-anchor="end" textLength="31.4" lengthAdjust="spacingAndGlyphs">1.2</text>
<line x1="84.8" y1="660.95" x2="89.4" y2="660.95" stroke="#000" stroke-width="1.2"/>
<text x="79.8" y="669.95" font-size="26.8" text-anchor="end" textLength="31.4" lengthAdjust="spacingAndGlyphs">1.3</text>
<line x1="84.8" y1="561.8" x2="89.4" y2="561.8" stroke="#000" stroke-width="1.2"/>
<text x="79.8" y="570.8" font-size="26.8" text-anchor="end" textLength="31.4" lengthAdjust="spacingAndGlyphs">1.4</text>
<line x1="113.53" y1="968.4" x2="113.53" y2="971.3" stroke="#000" stroke-width="0.9"/>
<line x1="127.83" y1="968.4" x2="127.83" y2="971.3" stroke="#000" stroke-width="0.9"/>
<line x1="137.98" y1="968.4" x2="137.98" y2="971.3" stroke="#000" stroke-width="0.9"/>
<line x1="145.85" y1="968.4" x2="145.85" y2="971.3" stroke="#000" stroke-width="0.9"/>
<line x1="152.28" y1="968.4" x2="152.28" y2="971.3" stroke="#000" stroke-width="0.9"/>
<line x1="157.72" y1="968.4" x2="157.72" y2="971.3" stroke="#000" stroke-width="0.9"/>
<line x1="162.43" y1="968.4" x2="162.43" y2="971.3" stroke="#000" stroke-width="0.9"/>
<line x1="166.58" y1="968.4" x2="166.58" y2="971.3" stroke="#000" stroke-width="0.9"/>
<line x1="170.3" y1="968.4" x2="170.3" y2="973" stroke="#000" stroke-width="1.2"/>
<text transform="matrix(0.9950 0 0 1 151.7 994.4)" font-size="26.8" fill="#000">10</text>
<text transform="matrix(0.7834 0 0 1 178.29 986)" font-size="18.6" fill="#000">1</text>
<line x1="194.75" y1="968.4" x2="194.75" y2="971.3" stroke="#000" stroke-width="0.9"/>
<line x1="209.05" y1="968.4" x2="209.05" y2="971.3" stroke="#000" stroke-width="0.9"/>
<line x1="219.2" y1="968.4" x2="219.2" y2="971.3" stroke="#000" stroke-width="0.9"/>
<line x1="227.07" y1="968.4" x2="227.07" y2="971.3" stroke="#000" stroke-width="0.9"/>
<line x1="233.5" y1="968.4" x2="233.5" y2="971.3" stroke="#000" stroke-width="0.9"/>
<line x1="238.94" y1="968.4" x2="238.94" y2="971.3" stroke="#000" stroke-width="0.9"/>
<line x1="243.65" y1="968.4" x2="243.65" y2="971.3" stroke="#000" stroke-width="0.9"/>
<line x1="247.8" y1="968.4" x2="247.8" y2="971.3" stroke="#000" stroke-width="0.9"/>
<line x1="275.97" y1="968.4" x2="275.97" y2="971.3" stroke="#000" stroke-width="0.9"/>
<line x1="290.27" y1="968.4" x2="290.27" y2="971.3" stroke="#000" stroke-width="0.9"/>
<line x1="300.42" y1="968.4" x2="300.42" y2="971.3" stroke="#000" stroke-width="0.9"/>
<line x1="308.29" y1="968.4" x2="308.29" y2="971.3" stroke="#000" stroke-width="0.9"/>
<line x1="314.72" y1="968.4" x2="314.72" y2="971.3" stroke="#000" stroke-width="0.9"/>
<line x1="320.16" y1="968.4" x2="320.16" y2="971.3" stroke="#000" stroke-width="0.9"/>
<line x1="324.87" y1="968.4" x2="324.87" y2="971.3" stroke="#000" stroke-width="0.9"/>
<line x1="329.02" y1="968.4" x2="329.02" y2="971.3" stroke="#000" stroke-width="0.9"/>
<line x1="332.74" y1="968.4" x2="332.74" y2="973" stroke="#000" stroke-width="1.2"/>
<text transform="matrix(0.9950 0 0 1 314.14 994.4)" font-size="26.8" fill="#000">10</text>
<text transform="matrix(0.6688 0 0 1 341.42 986)" font-size="18.6" fill="#000">3</text>
<line x1="357.19" y1="968.4" x2="357.19" y2="971.3" stroke="#000" stroke-width="0.9"/>
<line x1="371.49" y1="968.4" x2="371.49" y2="971.3" stroke="#000" stroke-width="0.9"/>
<line x1="381.64" y1="968.4" x2="381.64" y2="971.3" stroke="#000" stroke-width="0.9"/>
<line x1="389.51" y1="968.4" x2="389.51" y2="971.3" stroke="#000" stroke-width="0.9"/>
<line x1="395.94" y1="968.4" x2="395.94" y2="971.3" stroke="#000" stroke-width="0.9"/>
<line x1="401.38" y1="968.4" x2="401.38" y2="971.3" stroke="#000" stroke-width="0.9"/>
<line x1="406.09" y1="968.4" x2="406.09" y2="971.3" stroke="#000" stroke-width="0.9"/>
<line x1="410.24" y1="968.4" x2="410.24" y2="971.3" stroke="#000" stroke-width="0.9"/>
<line x1="438.41" y1="968.4" x2="438.41" y2="971.3" stroke="#000" stroke-width="0.9"/>
<line x1="452.71" y1="968.4" x2="452.71" y2="971.3" stroke="#000" stroke-width="0.9"/>
<line x1="462.86" y1="968.4" x2="462.86" y2="971.3" stroke="#000" stroke-width="0.9"/>
<line x1="470.73" y1="968.4" x2="470.73" y2="971.3" stroke="#000" stroke-width="0.9"/>
<line x1="477.16" y1="968.4" x2="477.16" y2="971.3" stroke="#000" stroke-width="0.9"/>
<line x1="482.6" y1="968.4" x2="482.6" y2="971.3" stroke="#000" stroke-width="0.9"/>
<line x1="487.31" y1="968.4" x2="487.31" y2="971.3" stroke="#000" stroke-width="0.9"/>
<line x1="491.46" y1="968.4" x2="491.46" y2="971.3" stroke="#000" stroke-width="0.9"/>
<line x1="495.18" y1="968.4" x2="495.18" y2="973" stroke="#000" stroke-width="1.2"/>
<text transform="matrix(0.9950 0 0 1 476.58 994.4)" font-size="26.8" fill="#000">10</text>
<text transform="matrix(0.6855 0 0 1 503.72 986)" font-size="18.6" fill="#000">5</text>
<line x1="519.63" y1="968.4" x2="519.63" y2="971.3" stroke="#000" stroke-width="0.9"/>
<line x1="533.93" y1="968.4" x2="533.93" y2="971.3" stroke="#000" stroke-width="0.9"/>
<line x1="544.08" y1="968.4" x2="544.08" y2="971.3" stroke="#000" stroke-width="0.9"/>
<line x1="551.95" y1="968.4" x2="551.95" y2="971.3" stroke="#000" stroke-width="0.9"/>
<line x1="558.38" y1="968.4" x2="558.38" y2="971.3" stroke="#000" stroke-width="0.9"/>
<line x1="563.82" y1="968.4" x2="563.82" y2="971.3" stroke="#000" stroke-width="0.9"/>
<line x1="568.53" y1="968.4" x2="568.53" y2="971.3" stroke="#000" stroke-width="0.9"/>
<line x1="572.68" y1="968.4" x2="572.68" y2="971.3" stroke="#000" stroke-width="0.9"/>
<line x1="600.85" y1="968.4" x2="600.85" y2="971.3" stroke="#000" stroke-width="0.9"/>
<line x1="615.15" y1="968.4" x2="615.15" y2="971.3" stroke="#000" stroke-width="0.9"/>
<line x1="625.3" y1="968.4" x2="625.3" y2="971.3" stroke="#000" stroke-width="0.9"/>
<line x1="633.17" y1="968.4" x2="633.17" y2="971.3" stroke="#000" stroke-width="0.9"/>
<line x1="639.6" y1="968.4" x2="639.6" y2="971.3" stroke="#000" stroke-width="0.9"/>
<line x1="645.04" y1="968.4" x2="645.04" y2="971.3" stroke="#000" stroke-width="0.9"/>
<line x1="649.75" y1="968.4" x2="649.75" y2="971.3" stroke="#000" stroke-width="0.9"/>
<line x1="653.9" y1="968.4" x2="653.9" y2="971.3" stroke="#000" stroke-width="0.9"/>
<line x1="657.62" y1="968.4" x2="657.62" y2="973" stroke="#000" stroke-width="1.2"/>
<text transform="matrix(0.9950 0 0 1 639.02 994.4)" font-size="26.8" fill="#000">10</text>
<text transform="matrix(0.6855 0 0 1 666.03 986)" font-size="18.6" fill="#000">7</text>
<line x1="682.07" y1="968.4" x2="682.07" y2="971.3" stroke="#000" stroke-width="0.9"/>
<line x1="696.37" y1="968.4" x2="696.37" y2="971.3" stroke="#000" stroke-width="0.9"/>
<line x1="706.52" y1="968.4" x2="706.52" y2="971.3" stroke="#000" stroke-width="0.9"/>
<line x1="714.39" y1="968.4" x2="714.39" y2="971.3" stroke="#000" stroke-width="0.9"/>
<line x1="720.82" y1="968.4" x2="720.82" y2="971.3" stroke="#000" stroke-width="0.9"/>
<line x1="726.26" y1="968.4" x2="726.26" y2="971.3" stroke="#000" stroke-width="0.9"/>
<text transform="matrix(0.4158 0 0 0.3120 390.33 1027.55)" font-size="100" font-style="italic">f</text>
<text transform="matrix(0.3444 0 0 0.3262 406.59 1027.3)" font-size="100" font-style="italic">T</text>
<g transform="translate(35.39,766.87) rotate(-90) scale(1.223529411764706)"><path d="M0.5,-7.9 C1.2,-10.3 2.2,-11.3 3.3,-11.3 C4.7,-11.3 4.7,-8.6 4.9,-5.0" fill="none" stroke="#000" stroke-width="1.25" stroke-linecap="round"/><path d="M10.6,-10.9 L2.8,3.4" fill="none" stroke="#000" stroke-width="2.3" stroke-linecap="round"/><ellipse cx="2.5" cy="3.4" rx="1.55" ry="1.9" transform="rotate(25 2.5 3.4)"/></g>
<text transform="matrix(0.3883 0 0 0.3711 11.65 1016.61)" font-size="100" font-weight="bold">(c)</text>
<polyline points="545.02,824.6 569.46,848 593.9,841.6 618.34,839.5 642.78,843.8 667.22,843.8 691.66,840.6" fill="none" stroke="#000000" stroke-width="1.0" stroke-linejoin="round"/>
<path d="M545.02 818.45L548.92 824.6L545.02 830.75L541.12 824.6Z" fill="#000000"/><path d="M569.46 841.85L573.36 848L569.46 854.15L565.56 848Z" fill="#000000"/><path d="M593.9 835.45L597.8 841.6L593.9 847.75L590 841.6Z" fill="#000000"/><path d="M618.34 833.35L622.24 839.5L618.34 845.65L614.44 839.5Z" fill="#000000"/><path d="M642.78 837.65L646.68 843.8L642.78 849.95L638.88 843.8Z" fill="#000000"/><path d="M667.22 837.65L671.12 843.8L667.22 849.95L663.32 843.8Z" fill="#000000"/><path d="M691.66 834.45L695.56 840.6L691.66 846.75L687.76 840.6Z" fill="#000000"/>
<polyline points="471.7,838 496.14,836.3 520.58,861.9 545.02,824.6 569.46,848 593.9,844.8 618.34,840.6 642.78,851.2 667.22,858.7 691.66,866.2" fill="none" stroke="#fb9f81" stroke-width="1.0" stroke-linejoin="round"/>
<path d="M471.7 831.85L475.6 838L471.7 844.15L467.8 838Z" fill="#fb9f81"/><path d="M496.14 830.15L500.04 836.3L496.14 842.45L492.24 836.3Z" fill="#fb9f81"/><path d="M520.58 855.75L524.48 861.9L520.58 868.05L516.68 861.9Z" fill="#fb9f81"/><path d="M545.02 818.45L548.92 824.6L545.02 830.75L541.12 824.6Z" fill="#fb9f81"/><path d="M569.46 841.85L573.36 848L569.46 854.15L565.56 848Z" fill="#fb9f81"/><path d="M593.9 838.65L597.8 844.8L593.9 850.95L590 844.8Z" fill="#fb9f81"/><path d="M618.34 834.45L622.24 840.6L618.34 846.75L614.44 840.6Z" fill="#fb9f81"/><path d="M642.78 845.05L646.68 851.2L642.78 857.35L638.88 851.2Z" fill="#fb9f81"/><path d="M667.22 852.55L671.12 858.7L667.22 864.85L663.32 858.7Z" fill="#fb9f81"/><path d="M691.66 860.05L695.56 866.2L691.66 872.35L687.76 866.2Z" fill="#fb9f81"/>
<polyline points="422.82,833.1 447.26,838.4 471.7,838 496.14,836.3 520.58,861.9 545.02,826.7 569.46,850.2 593.9,858.7 618.34,885.4 642.78,928.1 667.22,944.1 691.66,952.6" fill="none" stroke="#fb6a4a" stroke-width="1.0" stroke-linejoin="round"/>
<path d="M422.82 826.95L426.72 833.1L422.82 839.25L418.92 833.1Z" fill="#fb6a4a"/><path d="M447.26 832.25L451.16 838.4L447.26 844.55L443.36 838.4Z" fill="#fb6a4a"/><path d="M471.7 831.85L475.6 838L471.7 844.15L467.8 838Z" fill="#fb6a4a"/><path d="M496.14 830.15L500.04 836.3L496.14 842.45L492.24 836.3Z" fill="#fb6a4a"/><path d="M520.58 855.75L524.48 861.9L520.58 868.05L516.68 861.9Z" fill="#fb6a4a"/><path d="M545.02 820.55L548.92 826.7L545.02 832.85L541.12 826.7Z" fill="#fb6a4a"/><path d="M569.46 844.05L573.36 850.2L569.46 856.35L565.56 850.2Z" fill="#fb6a4a"/><path d="M593.9 852.55L597.8 858.7L593.9 864.85L590 858.7Z" fill="#fb6a4a"/><path d="M618.34 879.25L622.24 885.4L618.34 891.55L614.44 885.4Z" fill="#fb6a4a"/><path d="M642.78 921.95L646.68 928.1L642.78 934.25L638.88 928.1Z" fill="#fb6a4a"/><path d="M667.22 937.95L671.12 944.1L667.22 950.25L663.32 944.1Z" fill="#fb6a4a"/><path d="M691.66 946.45L695.56 952.6L691.66 958.75L687.76 952.6Z" fill="#fb6a4a"/>
<polyline points="105.1,567.8 129.54,663.4 153.98,835.7 178.42,840.3 202.86,848 227.3,839.6 251.74,848 276.18,828.2 300.62,838.5 325.06,858.3 349.5,835.2 373.94,859.9 398.38,839.2 422.82,833.1 447.26,838.4 471.7,838 496.14,844.8 520.58,883.3 545.02,887.5 569.46,939.8 593.9,961.2 618.34,951.6 642.78,960.1 667.22,952.6 691.66,953.7" fill="none" stroke="#e32f27" stroke-width="1.0" stroke-linejoin="round"/>
<path d="M105.1 561.65L109 567.8L105.1 573.95L101.2 567.8Z" fill="#e32f27"/><path d="M129.54 657.25L133.44 663.4L129.54 669.55L125.64 663.4Z" fill="#e32f27"/><path d="M153.98 829.55L157.88 835.7L153.98 841.85L150.08 835.7Z" fill="#e32f27"/><path d="M178.42 834.15L182.32 840.3L178.42 846.45L174.52 840.3Z" fill="#e32f27"/><path d="M202.86 841.85L206.76 848L202.86 854.15L198.96 848Z" fill="#e32f27"/><path d="M227.3 833.45L231.2 839.6L227.3 845.75L223.4 839.6Z" fill="#e32f27"/><path d="M251.74 841.85L255.64 848L251.74 854.15L247.84 848Z" fill="#e32f27"/><path d="M276.18 822.05L280.08 828.2L276.18 834.35L272.28 828.2Z" fill="#e32f27"/><path d="M300.62 832.35L304.52 838.5L300.62 844.65L296.72 838.5Z" fill="#e32f27"/><path d="M325.06 852.15L328.96 858.3L325.06 864.45L321.16 858.3Z" fill="#e32f27"/><path d="M349.5 829.05L353.4 835.2L349.5 841.35L345.6 835.2Z" fill="#e32f27"/><path d="M373.94 853.75L377.84 859.9L373.94 866.05L370.04 859.9Z" fill="#e32f27"/><path d="M398.38 833.05L402.28 839.2L398.38 845.35L394.48 839.2Z" fill="#e32f27"/><path d="M422.82 826.95L426.72 833.1L422.82 839.25L418.92 833.1Z" fill="#e32f27"/><path d="M447.26 832.25L451.16 838.4L447.26 844.55L443.36 838.4Z" fill="#e32f27"/><path d="M471.7 831.85L475.6 838L471.7 844.15L467.8 838Z" fill="#e32f27"/><path d="M496.14 838.65L500.04 844.8L496.14 850.95L492.24 844.8Z" fill="#e32f27"/><path d="M520.58 877.15L524.48 883.3L520.58 889.45L516.68 883.3Z" fill="#e32f27"/><path d="M545.02 881.35L548.92 887.5L545.02 893.65L541.12 887.5Z" fill="#e32f27"/><path d="M569.46 933.65L573.36 939.8L569.46 945.95L565.56 939.8Z" fill="#e32f27"/><path d="M593.9 955.05L597.8 961.2L593.9 967.35L590 961.2Z" fill="#e32f27"/><path d="M618.34 945.45L622.24 951.6L618.34 957.75L614.44 951.6Z" fill="#e32f27"/><path d="M642.78 953.95L646.68 960.1L642.78 966.25L638.88 960.1Z" fill="#e32f27"/><path d="M667.22 946.45L671.12 952.6L667.22 958.75L663.32 952.6Z" fill="#e32f27"/><path d="M691.66 947.55L695.56 953.7L691.66 959.85L687.76 953.7Z" fill="#e32f27"/>
<polyline points="105.1,841.4 129.54,841.4 153.98,841.4 178.42,841.4 202.86,841.4 227.3,841.4 251.74,841.4 276.18,841.4 300.62,841.4 325.06,841.4 349.5,841.4 373.94,841.4 398.38,841.4 422.82,841.4 447.26,841.4 471.7,841.4 496.14,841.4 520.58,841.4 545.02,841.4 569.46,841.4 593.9,841.4 618.34,841.4 642.78,845.9 667.22,855.5 691.66,874.7" fill="none" stroke="#fb9f81" stroke-width="2.0" stroke-linejoin="round" stroke-dasharray="7.4 2.9" stroke-dashoffset="6.8"/>
<polyline points="105.1,841.4 129.54,841.4 153.98,841.4 178.42,841.4 202.86,841.4 227.3,841.4 251.74,841.4 276.18,841.4 300.62,841.4 325.06,841.4 349.5,841.4 373.94,841.4 398.38,841.4 422.82,841.4 447.26,841.4 471.7,841.4 496.14,841.4 520.58,841.4 545.02,841.4 569.46,843.5 593.9,857.6 618.34,889.7 642.78,932.4 667.22,949.4 691.66,957.6" fill="none" stroke="#fb6a4a" stroke-width="2.0" stroke-linejoin="round" stroke-dasharray="7.4 2.9" stroke-dashoffset="3.4"/>
<polyline points="105.1,841.4 129.54,841.4 153.98,841.4 178.42,841.4 202.86,841.4 227.3,841.4 251.74,841.4 276.18,841.4 300.62,841.4 325.06,841.4 349.5,841.4 373.94,841.4 398.38,841.4 422.82,841.4 447.26,841.4 471.7,841.4 496.14,845.9 520.58,864 545.02,900.3 569.46,940.9 593.9,957 618.34,958 642.78,958 667.22,958 691.66,958" fill="none" stroke="#e32f27" stroke-width="2.0" stroke-linejoin="round" stroke-dasharray="7.4 2.9" stroke-dashoffset="0"/>
<line x1="105.4" y1="841.4" x2="716.2" y2="841.4" stroke="#000" stroke-width="1.3" stroke-dasharray="5.3 2.2" stroke-opacity="0.85"/>
<g transform="translate(616.9,821.8) scale(1.0)"><path d="M0.5,-7.9 C1.2,-10.3 2.2,-11.3 3.3,-11.3 C4.7,-11.3 4.7,-8.6 4.9,-5.0" fill="none" stroke="#000" stroke-width="1.25" stroke-linecap="round"/><path d="M10.6,-10.9 L2.8,3.4" fill="none" stroke="#000" stroke-width="2.3" stroke-linecap="round"/><ellipse cx="2.5" cy="3.4" rx="1.55" ry="1.9" transform="rotate(25 2.5 3.4)"/></g><rect x="632.1" y="811.8" width="15.8" height="1.6"/><rect x="632.1" y="816.8" width="15.8" height="1.6"/><path d="M655.3 814.9L658.3 812.8L664.3 827.2" stroke="#000" stroke-width="2.1" fill="none" stroke-linejoin="miter"/><path d="M664.3 827.2L675.5 797.1L695 797.1" stroke="#000" stroke-width="1.25" fill="none"/><text transform="matrix(0.9774 0 0 1 678.64 821.8)" font-size="26.6" fill="#000">5</text><path d="M695.8 822L700.2 804" stroke="#000" stroke-width="1.45" fill="none"/><text transform="matrix(1.0620 0 0 1 701.67 821.8)" font-size="26.6" fill="#000">2</text>
<text transform="matrix(0.9951 0 0 1 604.41 685.1)" font-size="26.6" font-style="italic" fill="#000">α</text><rect x="623.4" y="675.1" width="15.7" height="1.6"/><rect x="623.4" y="680.4" width="15.7" height="1.6"/><text transform="matrix(0.9774 0 0 1 643.26 685.1)" font-size="26.6" fill="#000">2</text><text transform="matrix(0.9543 0 0 1 656.25 685.1)" font-size="26.6" font-style="italic" fill="#000">H</text><rect x="679.5" y="675.1" width="15.7" height="1.6"/><rect x="679.5" y="680.4" width="15.7" height="1.6"/><text transform="matrix(0.8700 0 0 1 699.62 685.1)" font-size="26.6" fill="#000">1</text>
<rect x="246" y="565" width="472" height="91.7" fill="#fff" stroke="#000" stroke-width="1.2"/>
<line x1="256.7" y1="587.7" x2="308.4" y2="587.7" stroke="#000000" stroke-width="1.1"/>
<path d="M282.55 581.55L286.45 587.7L282.55 593.85L278.65 587.7Z" fill="#000000"/>
<text transform="matrix(0.9744 0 0 1 327.62 596.4)" font-size="26.6" font-style="italic" fill="#000">σ</text><text transform="matrix(1.0753 0 0 1 341.8 587.2)" font-size="18.6" fill="#000">2</text><text transform="matrix(1.0339 0 0 1 340.02 603)" font-size="18.6" font-style="italic" fill="#000">e</text><rect x="356.9" y="586.3" width="15.5" height="1.6"/><rect x="356.9" y="591.5" width="15.5" height="1.6"/><text transform="matrix(1.0920 0 0 1 376.24 596.4)" font-size="26.6" fill="#000">0</text>
<line x1="256.7" y1="630" x2="308.4" y2="630" stroke="#fb9f81" stroke-width="1.1"/>
<path d="M282.55 623.85L286.45 630L282.55 636.15L278.65 630Z" fill="#fb9f81"/>
<text transform="matrix(0.9744 0 0 1 327.62 638.7)" font-size="26.6" font-style="italic" fill="#000">σ</text><text transform="matrix(1.0753 0 0 1 341.8 629.5)" font-size="18.6" fill="#000">2</text><text transform="matrix(1.0339 0 0 1 340.02 645.3)" font-size="18.6" font-style="italic" fill="#000">e</text><rect x="356.9" y="628.6" width="15.5" height="1.6"/><rect x="356.9" y="633.8" width="15.5" height="1.6"/><text transform="matrix(1.0526 0 0 1 376.28 638.7)" font-size="26.6" fill="#000">2</text><path d="M394.8 625.5L407.4 637.9M407.4 625.5L394.8 637.9" stroke="#000" stroke-width="1.55" fill="none"/><text transform="matrix(0.9679 0 0 1 413.68 638.7)" font-size="26.6" fill="#000">10</text><rect x="440" y="624.45" width="7.9" height="1.3"/><text transform="matrix(1.0618 0 0 1 450.41 629.4)" font-size="18.6" fill="#000">2</text>
<line x1="513.5" y1="587.7" x2="565.2" y2="587.7" stroke="#fb6a4a" stroke-width="1.1"/>
<path d="M539.35 581.55L543.25 587.7L539.35 593.85L535.45 587.7Z" fill="#fb6a4a"/>
<text transform="matrix(0.9744 0 0 1 584.42 596.4)" font-size="26.6" font-style="italic" fill="#000">σ</text><text transform="matrix(1.0753 0 0 1 598.6 587.2)" font-size="18.6" fill="#000">2</text><text transform="matrix(1.0339 0 0 1 596.82 603)" font-size="18.6" font-style="italic" fill="#000">e</text><rect x="613.7" y="586.3" width="15.5" height="1.6"/><rect x="613.7" y="591.5" width="15.5" height="1.6"/><text transform="matrix(1.0526 0 0 1 633.08 596.4)" font-size="26.6" fill="#000">2</text><path d="M651.6 583.2L664.2 595.6M664.2 583.2L651.6 595.6" stroke="#000" stroke-width="1.55" fill="none"/><text transform="matrix(0.9679 0 0 1 670.48 596.4)" font-size="26.6" fill="#000">10</text><text transform="matrix(0.9473 0 0 1 696.9 587.1)" font-size="18.6" fill="#000">0</text>
<line x1="513.5" y1="630" x2="565.2" y2="630" stroke="#e32f27" stroke-width="1.1"/>
<path d="M539.35 623.85L543.25 630L539.35 636.15L535.45 630Z" fill="#e32f27"/>
<text transform="matrix(0.9744 0 0 1 584.42 638.7)" font-size="26.6" font-style="italic" fill="#000">σ</text><text transform="matrix(1.0753 0 0 1 598.6 629.5)" font-size="18.6" fill="#000">2</text><text transform="matrix(1.0339 0 0 1 596.82 645.3)" font-size="18.6" font-style="italic" fill="#000">e</text><rect x="613.7" y="628.6" width="15.5" height="1.6"/><rect x="613.7" y="633.8" width="15.5" height="1.6"/><text transform="matrix(1.0526 0 0 1 633.08 638.7)" font-size="26.6" fill="#000">2</text><path d="M651.6 625.5L664.2 637.9M664.2 625.5L651.6 637.9" stroke="#000" stroke-width="1.55" fill="none"/><text transform="matrix(0.9679 0 0 1 670.48 638.7)" font-size="26.6" fill="#000">10</text><text transform="matrix(0.9946 0 0 1 696.86 629.4)" font-size="18.6" fill="#000">2</text>
<rect x="844.3" y="552.3" width="641.2" height="415.9" fill="none" stroke="#000" stroke-width="1.0"/>
<line x1="839.7" y1="968.1" x2="844.3" y2="968.1" stroke="#000" stroke-width="1.2"/>
<text x="834.7" y="977.1" font-size="26.8" text-anchor="end" textLength="31.4" lengthAdjust="spacingAndGlyphs">1.0</text>
<line x1="839.7" y1="873.6" x2="844.3" y2="873.6" stroke="#000" stroke-width="1.2"/>
<text x="834.7" y="882.6" font-size="26.8" text-anchor="end" textLength="31.4" lengthAdjust="spacingAndGlyphs">1.1</text>
<line x1="839.7" y1="779.1" x2="844.3" y2="779.1" stroke="#000" stroke-width="1.2"/>
<text x="834.7" y="788.1" font-size="26.8" text-anchor="end" textLength="31.4" lengthAdjust="spacingAndGlyphs">1.2</text>
<line x1="839.7" y1="684.6" x2="844.3" y2="684.6" stroke="#000" stroke-width="1.2"/>
<text x="834.7" y="693.6" font-size="26.8" text-anchor="end" textLength="31.4" lengthAdjust="spacingAndGlyphs">1.3</text>
<line x1="839.7" y1="590.1" x2="844.3" y2="590.1" stroke="#000" stroke-width="1.2"/>
<text x="834.7" y="599.1" font-size="26.8" text-anchor="end" textLength="31.4" lengthAdjust="spacingAndGlyphs">1.4</text>
<line x1="873.98" y1="968.2" x2="873.98" y2="971.1" stroke="#000" stroke-width="0.9"/>
<line x1="897.36" y1="968.2" x2="897.36" y2="971.1" stroke="#000" stroke-width="0.9"/>
<line x1="913.95" y1="968.2" x2="913.95" y2="971.1" stroke="#000" stroke-width="0.9"/>
<line x1="926.82" y1="968.2" x2="926.82" y2="971.1" stroke="#000" stroke-width="0.9"/>
<line x1="937.34" y1="968.2" x2="937.34" y2="971.1" stroke="#000" stroke-width="0.9"/>
<line x1="946.23" y1="968.2" x2="946.23" y2="971.1" stroke="#000" stroke-width="0.9"/>
<line x1="953.93" y1="968.2" x2="953.93" y2="971.1" stroke="#000" stroke-width="0.9"/>
<line x1="960.72" y1="968.2" x2="960.72" y2="971.1" stroke="#000" stroke-width="0.9"/>
<line x1="966.8" y1="968.2" x2="966.8" y2="972.8" stroke="#000" stroke-width="1.2"/>
<text transform="matrix(0.9950 0 0 1 948.2 994.2)" font-size="26.8" fill="#000">10</text>
<text transform="matrix(0.7834 0 0 1 974.79 985.8)" font-size="18.6" fill="#000">1</text>
<line x1="1006.78" y1="968.2" x2="1006.78" y2="971.1" stroke="#000" stroke-width="0.9"/>
<line x1="1030.16" y1="968.2" x2="1030.16" y2="971.1" stroke="#000" stroke-width="0.9"/>
<line x1="1046.75" y1="968.2" x2="1046.75" y2="971.1" stroke="#000" stroke-width="0.9"/>
<line x1="1059.62" y1="968.2" x2="1059.62" y2="971.1" stroke="#000" stroke-width="0.9"/>
<line x1="1070.14" y1="968.2" x2="1070.14" y2="971.1" stroke="#000" stroke-width="0.9"/>
<line x1="1079.03" y1="968.2" x2="1079.03" y2="971.1" stroke="#000" stroke-width="0.9"/>
<line x1="1086.73" y1="968.2" x2="1086.73" y2="971.1" stroke="#000" stroke-width="0.9"/>
<line x1="1093.52" y1="968.2" x2="1093.52" y2="971.1" stroke="#000" stroke-width="0.9"/>
<line x1="1099.6" y1="968.2" x2="1099.6" y2="972.8" stroke="#000" stroke-width="1.2"/>
<text transform="matrix(0.9950 0 0 1 1081 994.2)" font-size="26.8" fill="#000">10</text>
<text transform="matrix(0.6855 0 0 1 1108.39 985.8)" font-size="18.6" fill="#000">2</text>
<line x1="1139.58" y1="968.2" x2="1139.58" y2="971.1" stroke="#000" stroke-width="0.9"/>
<line x1="1162.96" y1="968.2" x2="1162.96" y2="971.1" stroke="#000" stroke-width="0.9"/>
<line x1="1179.55" y1="968.2" x2="1179.55" y2="971.1" stroke="#000" stroke-width="0.9"/>
<line x1="1192.42" y1="968.2" x2="1192.42" y2="971.1" stroke="#000" stroke-width="0.9"/>
<line x1="1202.94" y1="968.2" x2="1202.94" y2="971.1" stroke="#000" stroke-width="0.9"/>
<line x1="1211.83" y1="968.2" x2="1211.83" y2="971.1" stroke="#000" stroke-width="0.9"/>
<line x1="1219.53" y1="968.2" x2="1219.53" y2="971.1" stroke="#000" stroke-width="0.9"/>
<line x1="1226.32" y1="968.2" x2="1226.32" y2="971.1" stroke="#000" stroke-width="0.9"/>
<line x1="1232.4" y1="968.2" x2="1232.4" y2="972.8" stroke="#000" stroke-width="1.2"/>
<text transform="matrix(0.9950 0 0 1 1213.8 994.2)" font-size="26.8" fill="#000">10</text>
<text transform="matrix(0.6688 0 0 1 1241.08 985.8)" font-size="18.6" fill="#000">3</text>
<line x1="1272.38" y1="968.2" x2="1272.38" y2="971.1" stroke="#000" stroke-width="0.9"/>
<line x1="1295.76" y1="968.2" x2="1295.76" y2="971.1" stroke="#000" stroke-width="0.9"/>
<line x1="1312.35" y1="968.2" x2="1312.35" y2="971.1" stroke="#000" stroke-width="0.9"/>
<line x1="1325.22" y1="968.2" x2="1325.22" y2="971.1" stroke="#000" stroke-width="0.9"/>
<line x1="1335.74" y1="968.2" x2="1335.74" y2="971.1" stroke="#000" stroke-width="0.9"/>
<line x1="1344.63" y1="968.2" x2="1344.63" y2="971.1" stroke="#000" stroke-width="0.9"/>
<line x1="1352.33" y1="968.2" x2="1352.33" y2="971.1" stroke="#000" stroke-width="0.9"/>
<line x1="1359.12" y1="968.2" x2="1359.12" y2="971.1" stroke="#000" stroke-width="0.9"/>
<line x1="1365.2" y1="968.2" x2="1365.2" y2="972.8" stroke="#000" stroke-width="1.2"/>
<text transform="matrix(0.9950 0 0 1 1346.6 994.2)" font-size="26.8" fill="#000">10</text>
<text transform="matrix(0.5961 0 0 1 1374.28 985.8)" font-size="18.6" fill="#000">4</text>
<line x1="1405.18" y1="968.2" x2="1405.18" y2="971.1" stroke="#000" stroke-width="0.9"/>
<line x1="1428.56" y1="968.2" x2="1428.56" y2="971.1" stroke="#000" stroke-width="0.9"/>
<line x1="1445.15" y1="968.2" x2="1445.15" y2="971.1" stroke="#000" stroke-width="0.9"/>
<line x1="1458.02" y1="968.2" x2="1458.02" y2="971.1" stroke="#000" stroke-width="0.9"/>
<line x1="1468.54" y1="968.2" x2="1468.54" y2="971.1" stroke="#000" stroke-width="0.9"/>
<line x1="1477.43" y1="968.2" x2="1477.43" y2="971.1" stroke="#000" stroke-width="0.9"/>
<line x1="1485.13" y1="968.2" x2="1485.13" y2="971.1" stroke="#000" stroke-width="0.9"/>
<text transform="matrix(0.4158 0 0 0.3120 1145.33 1027.35)" font-size="100" font-style="italic">f</text>
<text transform="matrix(0.3444 0 0 0.3262 1161.59 1027.1)" font-size="100" font-style="italic">T</text>
<g transform="translate(790.29,767.07) rotate(-90) scale(1.223529411764706)"><path d="M0.5,-7.9 C1.2,-10.3 2.2,-11.3 3.3,-11.3 C4.7,-11.3 4.7,-8.6 4.9,-5.0" fill="none" stroke="#000" stroke-width="1.25" stroke-linecap="round"/><path d="M10.6,-10.9 L2.8,3.4" fill="none" stroke="#000" stroke-width="2.3" stroke-linecap="round"/><ellipse cx="2.5" cy="3.4" rx="1.55" ry="1.9" transform="rotate(25 2.5 3.4)"/></g>
<text transform="matrix(0.3851 0 0 0.3689 760.46 1014.25)" font-size="100" font-weight="bold">(d)</text>
<polyline points="902.7,585.2 920.7,647.4 938.7,724.1 956.7,829.7 974.7,865.9 992.7,847.8 1010.7,860.6 1028.7,848.9 1046.7,851 1064.7,851.7 1082.7,863 1100.7,863.1 1118.7,869 1136.7,857.2 1154.7,846.7 1172.7,860.2 1190.7,855.8 1208.7,871.9 1226.7,844.8 1244.7,866 1262.7,863.1 1280.7,863.7 1298.7,849.7 1316.7,870.7 1334.7,857.4 1352.7,859.5 1370.7,864.4 1388.7,856 1406.7,857.4 1424.7,856 1442.7,864.4 1460.7,865.1" fill="none" stroke="#000000" stroke-width="1.0" stroke-linejoin="round"/>
<path d="M902.7 579.05L906.6 585.2L902.7 591.35L898.8 585.2Z" fill="#000000"/><path d="M920.7 641.25L924.6 647.4L920.7 653.55L916.8 647.4Z" fill="#000000"/><path d="M938.7 717.95L942.6 724.1L938.7 730.25L934.8 724.1Z" fill="#000000"/><path d="M956.7 823.55L960.6 829.7L956.7 835.85L952.8 829.7Z" fill="#000000"/><path d="M974.7 859.75L978.6 865.9L974.7 872.05L970.8 865.9Z" fill="#000000"/><path d="M992.7 841.65L996.6 847.8L992.7 853.95L988.8 847.8Z" fill="#000000"/><path d="M1010.7 854.45L1014.6 860.6L1010.7 866.75L1006.8 860.6Z" fill="#000000"/><path d="M1028.7 842.75L1032.6 848.9L1028.7 855.05L1024.8 848.9Z" fill="#000000"/><path d="M1046.7 844.85L1050.6 851L1046.7 857.15L1042.8 851Z" fill="#000000"/><path d="M1064.7 845.55L1068.6 851.7L1064.7 857.85L1060.8 851.7Z" fill="#000000"/><path d="M1082.7 856.85L1086.6 863L1082.7 869.15L1078.8 863Z" fill="#000000"/><path d="M1100.7 856.95L1104.6 863.1L1100.7 869.25L1096.8 863.1Z" fill="#000000"/><path d="M1118.7 862.85L1122.6 869L1118.7 875.15L1114.8 869Z" fill="#000000"/><path d="M1136.7 851.05L1140.6 857.2L1136.7 863.35L1132.8 857.2Z" fill="#000000"/><path d="M1154.7 840.55L1158.6 846.7L1154.7 852.85L1150.8 846.7Z" fill="#000000"/><path d="M1172.7 854.05L1176.6 860.2L1172.7 866.35L1168.8 860.2Z" fill="#000000"/><path d="M1190.7 849.65L1194.6 855.8L1190.7 861.95L1186.8 855.8Z" fill="#000000"/><path d="M1208.7 865.75L1212.6 871.9L1208.7 878.05L1204.8 871.9Z" fill="#000000"/><path d="M1226.7 838.65L1230.6 844.8L1226.7 850.95L1222.8 844.8Z" fill="#000000"/><path d="M1244.7 859.85L1248.6 866L1244.7 872.15L1240.8 866Z" fill="#000000"/><path d="M1262.7 856.95L1266.6 863.1L1262.7 869.25L1258.8 863.1Z" fill="#000000"/><path d="M1280.7 857.55L1284.6 863.7L1280.7 869.85L1276.8 863.7Z" fill="#000000"/><path d="M1298.7 843.55L1302.6 849.7L1298.7 855.85L1294.8 849.7Z" fill="#000000"/><path d="M1316.7 864.55L1320.6 870.7L1316.7 876.85L1312.8 870.7Z" fill="#000000"/><path d="M1334.7 851.25L1338.6 857.4L1334.7 863.55L1330.8 857.4Z" fill="#000000"/><path d="M1352.7 853.35L1356.6 859.5L1352.7 865.65L1348.8 859.5Z" fill="#000000"/><path d="M1370.7 858.25L1374.6 864.4L1370.7 870.55L1366.8 864.4Z" fill="#000000"/><path d="M1388.7 849.85L1392.6 856L1388.7 862.15L1384.8 856Z" fill="#000000"/><path d="M1406.7 851.25L1410.6 857.4L1406.7 863.55L1402.8 857.4Z" fill="#000000"/><path d="M1424.7 849.85L1428.6 856L1424.7 862.15L1420.8 856Z" fill="#000000"/><path d="M1442.7 858.25L1446.6 864.4L1442.7 870.55L1438.8 864.4Z" fill="#000000"/><path d="M1460.7 858.95L1464.6 865.1L1460.7 871.25L1456.8 865.1Z" fill="#000000"/>
<polyline points="866.7,587.3 884.7,587.3 902.7,595.2 920.7,651.7 938.7,728.4 956.7,832.9 974.7,877.6 992.7,876 1010.7,861.6 1028.7,841.4 1046.7,869.1 1064.7,868.2 1082.7,861.6 1100.7,864.6 1118.7,864.6 1136.7,871.2 1154.7,867.5 1172.7,866.8 1190.7,866.8 1208.7,866.8 1226.7,874.8 1244.7,858 1262.7,876.3 1280.7,872.1 1298.7,865.1 1316.7,846.2 1334.7,865.8 1352.7,835.7 1370.7,870.7 1388.7,849.7 1406.7,853.2 1424.7,816.1 1442.7,799.3 1460.7,779" fill="none" stroke="#6aaed6" stroke-width="1.0" stroke-linejoin="round"/>
<path d="M866.7 581.15L870.6 587.3L866.7 593.45L862.8 587.3Z" fill="#6aaed6"/><path d="M884.7 581.15L888.6 587.3L884.7 593.45L880.8 587.3Z" fill="#6aaed6"/><path d="M902.7 589.05L906.6 595.2L902.7 601.35L898.8 595.2Z" fill="#6aaed6"/><path d="M920.7 645.55L924.6 651.7L920.7 657.85L916.8 651.7Z" fill="#6aaed6"/><path d="M938.7 722.25L942.6 728.4L938.7 734.55L934.8 728.4Z" fill="#6aaed6"/><path d="M956.7 826.75L960.6 832.9L956.7 839.05L952.8 832.9Z" fill="#6aaed6"/><path d="M974.7 871.45L978.6 877.6L974.7 883.75L970.8 877.6Z" fill="#6aaed6"/><path d="M992.7 869.85L996.6 876L992.7 882.15L988.8 876Z" fill="#6aaed6"/><path d="M1010.7 855.45L1014.6 861.6L1010.7 867.75L1006.8 861.6Z" fill="#6aaed6"/><path d="M1028.7 835.25L1032.6 841.4L1028.7 847.55L1024.8 841.4Z" fill="#6aaed6"/><path d="M1046.7 862.95L1050.6 869.1L1046.7 875.25L1042.8 869.1Z" fill="#6aaed6"/><path d="M1064.7 862.05L1068.6 868.2L1064.7 874.35L1060.8 868.2Z" fill="#6aaed6"/><path d="M1082.7 855.45L1086.6 861.6L1082.7 867.75L1078.8 861.6Z" fill="#6aaed6"/><path d="M1100.7 858.45L1104.6 864.6L1100.7 870.75L1096.8 864.6Z" fill="#6aaed6"/><path d="M1118.7 858.45L1122.6 864.6L1118.7 870.75L1114.8 864.6Z" fill="#6aaed6"/><path d="M1136.7 865.05L1140.6 871.2L1136.7 877.35L1132.8 871.2Z" fill="#6aaed6"/><path d="M1154.7 861.35L1158.6 867.5L1154.7 873.65L1150.8 867.5Z" fill="#6aaed6"/><path d="M1172.7 860.65L1176.6 866.8L1172.7 872.95L1168.8 866.8Z" fill="#6aaed6"/><path d="M1190.7 860.65L1194.6 866.8L1190.7 872.95L1186.8 866.8Z" fill="#6aaed6"/><path d="M1208.7 860.65L1212.6 866.8L1208.7 872.95L1204.8 866.8Z" fill="#6aaed6"/><path d="M1226.7 868.65L1230.6 874.8L1226.7 880.95L1222.8 874.8Z" fill="#6aaed6"/><path d="M1244.7 851.85L1248.6 858L1244.7 864.15L1240.8 858Z" fill="#6aaed6"/><path d="M1262.7 870.15L1266.6 876.3L1262.7 882.45L1258.8 876.3Z" fill="#6aaed6"/><path d="M1280.7 865.95L1284.6 872.1L1280.7 878.25L1276.8 872.1Z" fill="#6aaed6"/><path d="M1298.7 858.95L1302.6 865.1L1298.7 871.25L1294.8 865.1Z" fill="#6aaed6"/><path d="M1316.7 840.05L1320.6 846.2L1316.7 852.35L1312.8 846.2Z" fill="#6aaed6"/><path d="M1334.7 859.65L1338.6 865.8L1334.7 871.95L1330.8 865.8Z" fill="#6aaed6"/><path d="M1352.7 829.55L1356.6 835.7L1352.7 841.85L1348.8 835.7Z" fill="#6aaed6"/><path d="M1370.7 864.55L1374.6 870.7L1370.7 876.85L1366.8 870.7Z" fill="#6aaed6"/><path d="M1388.7 843.55L1392.6 849.7L1388.7 855.85L1384.8 849.7Z" fill="#6aaed6"/><path d="M1406.7 847.05L1410.6 853.2L1406.7 859.35L1402.8 853.2Z" fill="#6aaed6"/><path d="M1424.7 809.95L1428.6 816.1L1424.7 822.25L1420.8 816.1Z" fill="#6aaed6"/><path d="M1442.7 793.15L1446.6 799.3L1442.7 805.45L1438.8 799.3Z" fill="#6aaed6"/><path d="M1460.7 772.85L1464.6 779L1460.7 785.15L1456.8 779Z" fill="#6aaed6"/>
<polyline points="866.7,576.6 884.7,576.6 902.7,585.2 920.7,642.1 938.7,719.9 956.7,827.5 974.7,861.6 992.7,843.1 1010.7,856.3 1028.7,855 1046.7,863.8 1064.7,863.1 1082.7,856.5 1100.7,860.2 1118.7,862.4 1136.7,864.6 1154.7,867.5 1172.7,854.3 1190.7,860.2 1208.7,855 1226.7,860 1244.7,852.1 1262.7,852.1 1280.7,868.6 1298.7,860.2 1316.7,859.5 1334.7,860.2 1352.7,841.3 1370.7,867.2 1388.7,856.7 1406.7,826 1424.7,814 1442.7,776.2 1460.7,720.8" fill="none" stroke="#3787c0" stroke-width="1.0" stroke-linejoin="round"/>
<path d="M866.7 570.45L870.6 576.6L866.7 582.75L862.8 576.6Z" fill="#3787c0"/><path d="M884.7 570.45L888.6 576.6L884.7 582.75L880.8 576.6Z" fill="#3787c0"/><path d="M902.7 579.05L906.6 585.2L902.7 591.35L898.8 585.2Z" fill="#3787c0"/><path d="M920.7 635.95L924.6 642.1L920.7 648.25L916.8 642.1Z" fill="#3787c0"/><path d="M938.7 713.75L942.6 719.9L938.7 726.05L934.8 719.9Z" fill="#3787c0"/><path d="M956.7 821.35L960.6 827.5L956.7 833.65L952.8 827.5Z" fill="#3787c0"/><path d="M974.7 855.45L978.6 861.6L974.7 867.75L970.8 861.6Z" fill="#3787c0"/><path d="M992.7 836.95L996.6 843.1L992.7 849.25L988.8 843.1Z" fill="#3787c0"/><path d="M1010.7 850.15L1014.6 856.3L1010.7 862.45L1006.8 856.3Z" fill="#3787c0"/><path d="M1028.7 848.85L1032.6 855L1028.7 861.15L1024.8 855Z" fill="#3787c0"/><path d="M1046.7 857.65L1050.6 863.8L1046.7 869.95L1042.8 863.8Z" fill="#3787c0"/><path d="M1064.7 856.95L1068.6 863.1L1064.7 869.25L1060.8 863.1Z" fill="#3787c0"/><path d="M1082.7 850.35L1086.6 856.5L1082.7 862.65L1078.8 856.5Z" fill="#3787c0"/><path d="M1100.7 854.05L1104.6 860.2L1100.7 866.35L1096.8 860.2Z" fill="#3787c0"/><path d="M1118.7 856.25L1122.6 862.4L1118.7 868.55L1114.8 862.4Z" fill="#3787c0"/><path d="M1136.7 858.45L1140.6 864.6L1136.7 870.75L1132.8 864.6Z" fill="#3787c0"/><path d="M1154.7 861.35L1158.6 867.5L1154.7 873.65L1150.8 867.5Z" fill="#3787c0"/><path d="M1172.7 848.15L1176.6 854.3L1172.7 860.45L1168.8 854.3Z" fill="#3787c0"/><path d="M1190.7 854.05L1194.6 860.2L1190.7 866.35L1186.8 860.2Z" fill="#3787c0"/><path d="M1208.7 848.85L1212.6 855L1208.7 861.15L1204.8 855Z" fill="#3787c0"/><path d="M1226.7 853.85L1230.6 860L1226.7 866.15L1222.8 860Z" fill="#3787c0"/><path d="M1244.7 845.95L1248.6 852.1L1244.7 858.25L1240.8 852.1Z" fill="#3787c0"/><path d="M1262.7 845.95L1266.6 852.1L1262.7 858.25L1258.8 852.1Z" fill="#3787c0"/><path d="M1280.7 862.45L1284.6 868.6L1280.7 874.75L1276.8 868.6Z" fill="#3787c0"/><path d="M1298.7 854.05L1302.6 860.2L1298.7 866.35L1294.8 860.2Z" fill="#3787c0"/><path d="M1316.7 853.35L1320.6 859.5L1316.7 865.65L1312.8 859.5Z" fill="#3787c0"/><path d="M1334.7 854.05L1338.6 860.2L1334.7 866.35L1330.8 860.2Z" fill="#3787c0"/><path d="M1352.7 835.15L1356.6 841.3L1352.7 847.45L1348.8 841.3Z" fill="#3787c0"/><path d="M1370.7 861.05L1374.6 867.2L1370.7 873.35L1366.8 867.2Z" fill="#3787c0"/><path d="M1388.7 850.55L1392.6 856.7L1388.7 862.85L1384.8 856.7Z" fill="#3787c0"/><path d="M1406.7 819.85L1410.6 826L1406.7 832.15L1402.8 826Z" fill="#3787c0"/><path d="M1424.7 807.85L1428.6 814L1424.7 820.15L1420.8 814Z" fill="#3787c0"/><path d="M1442.7 770.05L1446.6 776.2L1442.7 782.35L1438.8 776.2Z" fill="#3787c0"/><path d="M1460.7 714.65L1464.6 720.8L1460.7 726.95L1456.8 720.8Z" fill="#3787c0"/>
<polyline points="866.7,569.6 884.7,569.6 902.7,578.1 920.7,630.3 938.7,702.8 956.7,802 974.7,855.2 992.7,878.7 1010.7,841.4 1028.7,853.1 1046.7,867 1064.7,839.9 1082.7,870.4 1100.7,848.4 1118.7,860.2 1136.7,841.1 1154.7,843.3 1172.7,842.6 1190.7,844 1208.7,858.7 1226.7,863.1 1244.7,855.8 1262.7,839.6 1280.7,849.7 1298.7,872.1 1316.7,860.2 1334.7,853.2 1352.7,849.7 1370.7,856.7 1388.7,837.8 1406.7,825.9 1424.7,794.4 1442.7,776.2 1460.7,732" fill="none" stroke="#1562a9" stroke-width="1.0" stroke-linejoin="round"/>
<path d="M866.7 563.45L870.6 569.6L866.7 575.75L862.8 569.6Z" fill="#1562a9"/><path d="M884.7 563.45L888.6 569.6L884.7 575.75L880.8 569.6Z" fill="#1562a9"/><path d="M902.7 571.95L906.6 578.1L902.7 584.25L898.8 578.1Z" fill="#1562a9"/><path d="M920.7 624.15L924.6 630.3L920.7 636.45L916.8 630.3Z" fill="#1562a9"/><path d="M938.7 696.65L942.6 702.8L938.7 708.95L934.8 702.8Z" fill="#1562a9"/><path d="M956.7 795.85L960.6 802L956.7 808.15L952.8 802Z" fill="#1562a9"/><path d="M974.7 849.05L978.6 855.2L974.7 861.35L970.8 855.2Z" fill="#1562a9"/><path d="M992.7 872.55L996.6 878.7L992.7 884.85L988.8 878.7Z" fill="#1562a9"/><path d="M1010.7 835.25L1014.6 841.4L1010.7 847.55L1006.8 841.4Z" fill="#1562a9"/><path d="M1028.7 846.95L1032.6 853.1L1028.7 859.25L1024.8 853.1Z" fill="#1562a9"/><path d="M1046.7 860.85L1050.6 867L1046.7 873.15L1042.8 867Z" fill="#1562a9"/><path d="M1064.7 833.75L1068.6 839.9L1064.7 846.05L1060.8 839.9Z" fill="#1562a9"/><path d="M1082.7 864.25L1086.6 870.4L1082.7 876.55L1078.8 870.4Z" fill="#1562a9"/><path d="M1100.7 842.25L1104.6 848.4L1100.7 854.55L1096.8 848.4Z" fill="#1562a9"/><path d="M1118.7 854.05L1122.6 860.2L1118.7 866.35L1114.8 860.2Z" fill="#1562a9"/><path d="M1136.7 834.95L1140.6 841.1L1136.7 847.25L1132.8 841.1Z" fill="#1562a9"/><path d="M1154.7 837.15L1158.6 843.3L1154.7 849.45L1150.8 843.3Z" fill="#1562a9"/><path d="M1172.7 836.45L1176.6 842.6L1172.7 848.75L1168.8 842.6Z" fill="#1562a9"/><path d="M1190.7 837.85L1194.6 844L1190.7 850.15L1186.8 844Z" fill="#1562a9"/><path d="M1208.7 852.55L1212.6 858.7L1208.7 864.85L1204.8 858.7Z" fill="#1562a9"/><path d="M1226.7 856.95L1230.6 863.1L1226.7 869.25L1222.8 863.1Z" fill="#1562a9"/><path d="M1244.7 849.65L1248.6 855.8L1244.7 861.95L1240.8 855.8Z" fill="#1562a9"/><path d="M1262.7 833.45L1266.6 839.6L1262.7 845.75L1258.8 839.6Z" fill="#1562a9"/><path d="M1280.7 843.55L1284.6 849.7L1280.7 855.85L1276.8 849.7Z" fill="#1562a9"/><path d="M1298.7 865.95L1302.6 872.1L1298.7 878.25L1294.8 872.1Z" fill="#1562a9"/><path d="M1316.7 854.05L1320.6 860.2L1316.7 866.35L1312.8 860.2Z" fill="#1562a9"/><path d="M1334.7 847.05L1338.6 853.2L1334.7 859.35L1330.8 853.2Z" fill="#1562a9"/><path d="M1352.7 843.55L1356.6 849.7L1352.7 855.85L1348.8 849.7Z" fill="#1562a9"/><path d="M1370.7 850.55L1374.6 856.7L1370.7 862.85L1366.8 856.7Z" fill="#1562a9"/><path d="M1388.7 831.65L1392.6 837.8L1388.7 843.95L1384.8 837.8Z" fill="#1562a9"/><path d="M1406.7 819.75L1410.6 825.9L1406.7 832.05L1402.8 825.9Z" fill="#1562a9"/><path d="M1424.7 788.25L1428.6 794.4L1424.7 800.55L1420.8 794.4Z" fill="#1562a9"/><path d="M1442.7 770.05L1446.6 776.2L1442.7 782.35L1438.8 776.2Z" fill="#1562a9"/><path d="M1460.7 725.85L1464.6 732L1460.7 738.15L1456.8 732Z" fill="#1562a9"/>
<line x1="844.3" y1="856.5" x2="1459.8" y2="856.5" stroke="#000" stroke-width="1.2" stroke-dasharray="3.7 1.6"/>
<g transform="translate(849.8,844.9) scale(1.0)"><path d="M0.5,-7.9 C1.2,-10.3 2.2,-11.3 3.3,-11.3 C4.7,-11.3 4.7,-8.6 4.9,-5.0" fill="none" stroke="#000" stroke-width="1.25" stroke-linecap="round"/><path d="M10.6,-10.9 L2.8,3.4" fill="none" stroke="#000" stroke-width="2.3" stroke-linecap="round"/><ellipse cx="2.5" cy="3.4" rx="1.55" ry="1.9" transform="rotate(25 2.5 3.4)"/></g><rect x="865" y="834.9" width="15.8" height="1.6"/><rect x="865" y="839.9" width="15.8" height="1.6"/><path d="M888.2 838L891.2 835.9L897.2 850.3" stroke="#000" stroke-width="2.1" fill="none" stroke-linejoin="miter"/><path d="M897.2 850.3L908.4 820.2L927.9 820.2" stroke="#000" stroke-width="1.25" fill="none"/><text transform="matrix(0.9774 0 0 1 911.54 844.9)" font-size="26.6" fill="#000">5</text><path d="M928.7 845.1L933.1 827.1" stroke="#000" stroke-width="1.45" fill="none"/><text transform="matrix(1.0620 0 0 1 934.57 844.9)" font-size="26.6" fill="#000">2</text>
<text transform="matrix(0.9951 0 0 1 1358.91 674.1)" font-size="26.6" font-style="italic" fill="#000">α</text><rect x="1377.9" y="664.1" width="15.7" height="1.6"/><rect x="1377.9" y="669.4" width="15.7" height="1.6"/><text transform="matrix(0.9774 0 0 1 1397.76 674.1)" font-size="26.6" fill="#000">2</text><text transform="matrix(0.9543 0 0 1 1410.75 674.1)" font-size="26.6" font-style="italic" fill="#000">H</text><rect x="1434" y="664.1" width="15.7" height="1.6"/><rect x="1434" y="669.4" width="15.7" height="1.6"/><text transform="matrix(0.8700 0 0 1 1454.12 674.1)" font-size="26.6" fill="#000">1</text>
<rect x="1122.7" y="565.1" width="350.3" height="83.7" fill="#fff" stroke="#000" stroke-width="1.2"/>
<line x1="1132.8" y1="586.2" x2="1184.3" y2="586.2" stroke="#000000" stroke-width="1.1"/>
<path d="M1158.55 580.05L1162.45 586.2L1158.55 592.35L1154.65 586.2Z" fill="#000000"/>
<text transform="matrix(1.0669 0 0 1 1204.53 594.7)" font-size="26.6" font-style="italic" fill="#000">τ</text><text transform="matrix(1.0615 0 0 1 1214.81 598)" font-size="18.6" font-style="italic" fill="#000">e</text><rect x="1229.2" y="584.7" width="15.2" height="1.6"/><rect x="1229.2" y="589.85" width="15.2" height="1.6"/><text transform="matrix(1.0920 0 0 1 1248.44 594.7)" font-size="26.6" fill="#000">0</text>
<line x1="1132.8" y1="624" x2="1184.3" y2="624" stroke="#6aaed6" stroke-width="1.1"/>
<path d="M1158.55 617.85L1162.45 624L1158.55 630.15L1154.65 624Z" fill="#6aaed6"/>
<text transform="matrix(1.0669 0 0 1 1204.53 632.5)" font-size="26.6" font-style="italic" fill="#000">τ</text><text transform="matrix(1.0615 0 0 1 1214.81 635.8)" font-size="18.6" font-style="italic" fill="#000">e</text><rect x="1229.2" y="622.5" width="15.2" height="1.6"/><rect x="1229.2" y="627.65" width="15.2" height="1.6"/><text transform="matrix(1.0526 0 0 1 1248.48 632.5)" font-size="26.6" fill="#000">2</text><text transform="matrix(1.0359 0 0 1 1262.24 623.9)" font-size="18.6" fill="#000">3</text>
<line x1="1323.4" y1="586.2" x2="1374.9" y2="586.2" stroke="#3787c0" stroke-width="1.1"/>
<path d="M1349.15 580.05L1353.05 586.2L1349.15 592.35L1345.25 586.2Z" fill="#3787c0"/>
<text transform="matrix(1.0669 0 0 1 1394.63 594.7)" font-size="26.6" font-style="italic" fill="#000">τ</text><text transform="matrix(1.0615 0 0 1 1404.91 598)" font-size="18.6" font-style="italic" fill="#000">e</text><rect x="1419.3" y="584.7" width="15.2" height="1.6"/><rect x="1419.3" y="589.85" width="15.2" height="1.6"/><text transform="matrix(1.0526 0 0 1 1438.58 594.7)" font-size="26.6" fill="#000">2</text><text transform="matrix(0.9877 0 0 1 1452.57 586.1)" font-size="18.6" fill="#000">6</text>
<line x1="1323.4" y1="624" x2="1374.9" y2="624" stroke="#1562a9" stroke-width="1.1"/>
<path d="M1349.15 617.85L1353.05 624L1349.15 630.15L1345.25 624Z" fill="#1562a9"/>
<text transform="matrix(1.0669 0 0 1 1394.63 632.5)" font-size="26.6" font-style="italic" fill="#000">τ</text><text transform="matrix(1.0615 0 0 1 1404.91 635.8)" font-size="18.6" font-style="italic" fill="#000">e</text><rect x="1419.3" y="622.5" width="15.2" height="1.6"/><rect x="1419.3" y="627.65" width="15.2" height="1.6"/><text transform="matrix(1.0526 0 0 1 1438.58 632.5)" font-size="26.6" fill="#000">2</text><text transform="matrix(0.9877 0 0 1 1452.75 623.9)" font-size="18.6" fill="#000">9</text>
<rect x="76.5" y="1104.9" width="653" height="423.3" fill="none" stroke="#000" stroke-width="1.0"/>
<line x1="71.9" y1="1518.5" x2="76.5" y2="1518.5" stroke="#000" stroke-width="1.2"/>
<text x="66.9" y="1527.5" font-size="26.8" text-anchor="end" textLength="31.4" lengthAdjust="spacingAndGlyphs">1.0</text>
<line x1="71.9" y1="1422.25" x2="76.5" y2="1422.25" stroke="#000" stroke-width="1.2"/>
<text x="66.9" y="1431.25" font-size="26.8" text-anchor="end" textLength="31.4" lengthAdjust="spacingAndGlyphs">1.1</text>
<line x1="71.9" y1="1326" x2="76.5" y2="1326" stroke="#000" stroke-width="1.2"/>
<text x="66.9" y="1335" font-size="26.8" text-anchor="end" textLength="31.4" lengthAdjust="spacingAndGlyphs">1.2</text>
<line x1="71.9" y1="1229.75" x2="76.5" y2="1229.75" stroke="#000" stroke-width="1.2"/>
<text x="66.9" y="1238.75" font-size="26.8" text-anchor="end" textLength="31.4" lengthAdjust="spacingAndGlyphs">1.3</text>
<line x1="71.9" y1="1133.5" x2="76.5" y2="1133.5" stroke="#000" stroke-width="1.2"/>
<text x="66.9" y="1142.5" font-size="26.8" text-anchor="end" textLength="31.4" lengthAdjust="spacingAndGlyphs">1.4</text>
<line x1="101.1" y1="1528.2" x2="101.1" y2="1531.1" stroke="#000" stroke-width="0.9"/>
<line x1="115.66" y1="1528.2" x2="115.66" y2="1531.1" stroke="#000" stroke-width="0.9"/>
<line x1="125.99" y1="1528.2" x2="125.99" y2="1531.1" stroke="#000" stroke-width="0.9"/>
<line x1="134" y1="1528.2" x2="134" y2="1531.1" stroke="#000" stroke-width="0.9"/>
<line x1="140.55" y1="1528.2" x2="140.55" y2="1531.1" stroke="#000" stroke-width="0.9"/>
<line x1="146.09" y1="1528.2" x2="146.09" y2="1531.1" stroke="#000" stroke-width="0.9"/>
<line x1="150.89" y1="1528.2" x2="150.89" y2="1531.1" stroke="#000" stroke-width="0.9"/>
<line x1="155.12" y1="1528.2" x2="155.12" y2="1531.1" stroke="#000" stroke-width="0.9"/>
<line x1="158.9" y1="1528.2" x2="158.9" y2="1532.8" stroke="#000" stroke-width="1.2"/>
<text transform="matrix(0.9950 0 0 1 140.3 1554.2)" font-size="26.8" fill="#000">10</text>
<text transform="matrix(0.7834 0 0 1 166.89 1545.8)" font-size="18.6" fill="#000">1</text>
<line x1="183.8" y1="1528.2" x2="183.8" y2="1531.1" stroke="#000" stroke-width="0.9"/>
<line x1="198.36" y1="1528.2" x2="198.36" y2="1531.1" stroke="#000" stroke-width="0.9"/>
<line x1="208.69" y1="1528.2" x2="208.69" y2="1531.1" stroke="#000" stroke-width="0.9"/>
<line x1="216.7" y1="1528.2" x2="216.7" y2="1531.1" stroke="#000" stroke-width="0.9"/>
<line x1="223.25" y1="1528.2" x2="223.25" y2="1531.1" stroke="#000" stroke-width="0.9"/>
<line x1="228.79" y1="1528.2" x2="228.79" y2="1531.1" stroke="#000" stroke-width="0.9"/>
<line x1="233.59" y1="1528.2" x2="233.59" y2="1531.1" stroke="#000" stroke-width="0.9"/>
<line x1="237.82" y1="1528.2" x2="237.82" y2="1531.1" stroke="#000" stroke-width="0.9"/>
<line x1="266.5" y1="1528.2" x2="266.5" y2="1531.1" stroke="#000" stroke-width="0.9"/>
<line x1="281.06" y1="1528.2" x2="281.06" y2="1531.1" stroke="#000" stroke-width="0.9"/>
<line x1="291.39" y1="1528.2" x2="291.39" y2="1531.1" stroke="#000" stroke-width="0.9"/>
<line x1="299.4" y1="1528.2" x2="299.4" y2="1531.1" stroke="#000" stroke-width="0.9"/>
<line x1="305.95" y1="1528.2" x2="305.95" y2="1531.1" stroke="#000" stroke-width="0.9"/>
<line x1="311.49" y1="1528.2" x2="311.49" y2="1531.1" stroke="#000" stroke-width="0.9"/>
<line x1="316.29" y1="1528.2" x2="316.29" y2="1531.1" stroke="#000" stroke-width="0.9"/>
<line x1="320.52" y1="1528.2" x2="320.52" y2="1531.1" stroke="#000" stroke-width="0.9"/>
<line x1="324.3" y1="1528.2" x2="324.3" y2="1532.8" stroke="#000" stroke-width="1.2"/>
<text transform="matrix(0.9950 0 0 1 305.7 1554.2)" font-size="26.8" fill="#000">10</text>
<text transform="matrix(0.6688 0 0 1 332.98 1545.8)" font-size="18.6" fill="#000">3</text>
<line x1="349.2" y1="1528.2" x2="349.2" y2="1531.1" stroke="#000" stroke-width="0.9"/>
<line x1="363.76" y1="1528.2" x2="363.76" y2="1531.1" stroke="#000" stroke-width="0.9"/>
<line x1="374.09" y1="1528.2" x2="374.09" y2="1531.1" stroke="#000" stroke-width="0.9"/>
<line x1="382.1" y1="1528.2" x2="382.1" y2="1531.1" stroke="#000" stroke-width="0.9"/>
<line x1="388.65" y1="1528.2" x2="388.65" y2="1531.1" stroke="#000" stroke-width="0.9"/>
<line x1="394.19" y1="1528.2" x2="394.19" y2="1531.1" stroke="#000" stroke-width="0.9"/>
<line x1="398.99" y1="1528.2" x2="398.99" y2="1531.1" stroke="#000" stroke-width="0.9"/>
<line x1="403.22" y1="1528.2" x2="403.22" y2="1531.1" stroke="#000" stroke-width="0.9"/>
<line x1="431.9" y1="1528.2" x2="431.9" y2="1531.1" stroke="#000" stroke-width="0.9"/>
<line x1="446.46" y1="1528.2" x2="446.46" y2="1531.1" stroke="#000" stroke-width="0.9"/>
<line x1="456.79" y1="1528.2" x2="456.79" y2="1531.1" stroke="#000" stroke-width="0.9"/>
<line x1="464.8" y1="1528.2" x2="464.8" y2="1531.1" stroke="#000" stroke-width="0.9"/>
<line x1="471.35" y1="1528.2" x2="471.35" y2="1531.1" stroke="#000" stroke-width="0.9"/>
<line x1="476.89" y1="1528.2" x2="476.89" y2="1531.1" stroke="#000" stroke-width="0.9"/>
<line x1="481.69" y1="1528.2" x2="481.69" y2="1531.1" stroke="#000" stroke-width="0.9"/>
<line x1="485.92" y1="1528.2" x2="485.92" y2="1531.1" stroke="#000" stroke-width="0.9"/>
<line x1="489.7" y1="1528.2" x2="489.7" y2="1532.8" stroke="#000" stroke-width="1.2"/>
<text transform="matrix(0.9950 0 0 1 471.1 1554.2)" font-size="26.8" fill="#000">10</text>
<text transform="matrix(0.6855 0 0 1 498.24 1545.8)" font-size="18.6" fill="#000">5</text>
<line x1="514.6" y1="1528.2" x2="514.6" y2="1531.1" stroke="#000" stroke-width="0.9"/>
<line x1="529.16" y1="1528.2" x2="529.16" y2="1531.1" stroke="#000" stroke-width="0.9"/>
<line x1="539.49" y1="1528.2" x2="539.49" y2="1531.1" stroke="#000" stroke-width="0.9"/>
<line x1="547.5" y1="1528.2" x2="547.5" y2="1531.1" stroke="#000" stroke-width="0.9"/>
<line x1="554.05" y1="1528.2" x2="554.05" y2="1531.1" stroke="#000" stroke-width="0.9"/>
<line x1="559.59" y1="1528.2" x2="559.59" y2="1531.1" stroke="#000" stroke-width="0.9"/>
<line x1="564.39" y1="1528.2" x2="564.39" y2="1531.1" stroke="#000" stroke-width="0.9"/>
<line x1="568.62" y1="1528.2" x2="568.62" y2="1531.1" stroke="#000" stroke-width="0.9"/>
<line x1="597.3" y1="1528.2" x2="597.3" y2="1531.1" stroke="#000" stroke-width="0.9"/>
<line x1="611.86" y1="1528.2" x2="611.86" y2="1531.1" stroke="#000" stroke-width="0.9"/>
<line x1="622.19" y1="1528.2" x2="622.19" y2="1531.1" stroke="#000" stroke-width="0.9"/>
<line x1="630.2" y1="1528.2" x2="630.2" y2="1531.1" stroke="#000" stroke-width="0.9"/>
<line x1="636.75" y1="1528.2" x2="636.75" y2="1531.1" stroke="#000" stroke-width="0.9"/>
<line x1="642.29" y1="1528.2" x2="642.29" y2="1531.1" stroke="#000" stroke-width="0.9"/>
<line x1="647.09" y1="1528.2" x2="647.09" y2="1531.1" stroke="#000" stroke-width="0.9"/>
<line x1="651.32" y1="1528.2" x2="651.32" y2="1531.1" stroke="#000" stroke-width="0.9"/>
<line x1="655.1" y1="1528.2" x2="655.1" y2="1532.8" stroke="#000" stroke-width="1.2"/>
<text transform="matrix(0.9950 0 0 1 636.5 1554.2)" font-size="26.8" fill="#000">10</text>
<text transform="matrix(0.6855 0 0 1 663.51 1545.8)" font-size="18.6" fill="#000">7</text>
<line x1="680" y1="1528.2" x2="680" y2="1531.1" stroke="#000" stroke-width="0.9"/>
<line x1="694.56" y1="1528.2" x2="694.56" y2="1531.1" stroke="#000" stroke-width="0.9"/>
<line x1="704.89" y1="1528.2" x2="704.89" y2="1531.1" stroke="#000" stroke-width="0.9"/>
<line x1="712.9" y1="1528.2" x2="712.9" y2="1531.1" stroke="#000" stroke-width="0.9"/>
<line x1="719.45" y1="1528.2" x2="719.45" y2="1531.1" stroke="#000" stroke-width="0.9"/>
<line x1="724.99" y1="1528.2" x2="724.99" y2="1531.1" stroke="#000" stroke-width="0.9"/>
<text transform="matrix(0.4158 0 0 0.3120 383.43 1588.55)" font-size="100" font-style="italic">f</text>
<text transform="matrix(0.3444 0 0 0.3262 399.69 1588.3)" font-size="100" font-style="italic">T</text>
<g transform="translate(22.49,1323.37) rotate(-90) scale(1.223529411764706)"><path d="M0.5,-7.9 C1.2,-10.3 2.2,-11.3 3.3,-11.3 C4.7,-11.3 4.7,-8.6 4.9,-5.0" fill="none" stroke="#000" stroke-width="1.25" stroke-linecap="round"/><path d="M10.6,-10.9 L2.8,3.4" fill="none" stroke="#000" stroke-width="2.3" stroke-linecap="round"/><ellipse cx="2.5" cy="3.4" rx="1.55" ry="1.9" transform="rotate(25 2.5 3.4)"/></g>
<text transform="matrix(0.3913 0 0 0.3778 -1.87 1575.07)" font-size="100" font-weight="bold">(e)</text>
<polyline points="515.86,1139.9 540.74,1133 565.62,1137 590.5,1134 615.38,1130.1 640.26,1131 665.14,1126.9 690.02,1127.8" fill="none" stroke="#000000" stroke-width="1.0" stroke-linejoin="round"/>
<rect x="512.11" y="1136.15" width="7.5" height="7.5" fill="#000000"/><rect x="536.99" y="1129.25" width="7.5" height="7.5" fill="#000000"/><rect x="561.87" y="1133.25" width="7.5" height="7.5" fill="#000000"/><rect x="586.75" y="1130.25" width="7.5" height="7.5" fill="#000000"/><rect x="611.63" y="1126.35" width="7.5" height="7.5" fill="#000000"/><rect x="636.51" y="1127.25" width="7.5" height="7.5" fill="#000000"/><rect x="661.39" y="1123.15" width="7.5" height="7.5" fill="#000000"/><rect x="686.27" y="1124.05" width="7.5" height="7.5" fill="#000000"/>
<polyline points="515.86,1139.9 540.74,1133 565.62,1137 590.5,1134 615.38,1130.1 640.26,1132 665.14,1128.3 690.02,1129" fill="none" stroke="#fb9f81" stroke-width="1.0" stroke-linejoin="round"/>
<rect x="512.11" y="1136.15" width="7.5" height="7.5" fill="#fb9f81"/><rect x="536.99" y="1129.25" width="7.5" height="7.5" fill="#fb9f81"/><rect x="561.87" y="1133.25" width="7.5" height="7.5" fill="#fb9f81"/><rect x="586.75" y="1130.25" width="7.5" height="7.5" fill="#fb9f81"/><rect x="611.63" y="1126.35" width="7.5" height="7.5" fill="#fb9f81"/><rect x="636.51" y="1128.25" width="7.5" height="7.5" fill="#fb9f81"/><rect x="661.39" y="1124.55" width="7.5" height="7.5" fill="#fb9f81"/><rect x="686.27" y="1125.25" width="7.5" height="7.5" fill="#fb9f81"/>
<polyline points="515.86,1139.9 540.74,1135.2 565.62,1137.3 590.5,1134.8 615.38,1133.3 640.26,1140.6 665.14,1160.6 690.02,1189.9" fill="none" stroke="#fb6a4a" stroke-width="1.0" stroke-linejoin="round"/>
<rect x="512.11" y="1136.15" width="7.5" height="7.5" fill="#fb6a4a"/><rect x="536.99" y="1131.45" width="7.5" height="7.5" fill="#fb6a4a"/><rect x="561.87" y="1133.55" width="7.5" height="7.5" fill="#fb6a4a"/><rect x="586.75" y="1131.05" width="7.5" height="7.5" fill="#fb6a4a"/><rect x="611.63" y="1129.55" width="7.5" height="7.5" fill="#fb6a4a"/><rect x="636.51" y="1136.85" width="7.5" height="7.5" fill="#fb6a4a"/><rect x="661.39" y="1156.85" width="7.5" height="7.5" fill="#fb6a4a"/><rect x="686.27" y="1186.15" width="7.5" height="7.5" fill="#fb6a4a"/>
<polyline points="92.9,1129.7 117.78,1195.7 142.66,1339.8 167.54,1314.8 192.42,1294.2 217.3,1256.3 242.18,1246.1 267.06,1217.1 291.94,1212.5 316.82,1208.2 341.7,1181.4 366.58,1181.4 391.46,1159.9 416.34,1152.6 441.22,1147.8 466.1,1146.7 490.98,1140.5 515.86,1139.9 540.74,1137.1 565.62,1150.1 590.5,1185.5 615.38,1286.4 640.26,1438.9 665.14,1499.3 690.02,1513.6" fill="none" stroke="#e32f27" stroke-width="1.0" stroke-linejoin="round"/>
<rect x="89.15" y="1125.95" width="7.5" height="7.5" fill="#e32f27"/><rect x="114.03" y="1191.95" width="7.5" height="7.5" fill="#e32f27"/><rect x="138.91" y="1336.05" width="7.5" height="7.5" fill="#e32f27"/><rect x="163.79" y="1311.05" width="7.5" height="7.5" fill="#e32f27"/><rect x="188.67" y="1290.45" width="7.5" height="7.5" fill="#e32f27"/><rect x="213.55" y="1252.55" width="7.5" height="7.5" fill="#e32f27"/><rect x="238.43" y="1242.35" width="7.5" height="7.5" fill="#e32f27"/><rect x="263.31" y="1213.35" width="7.5" height="7.5" fill="#e32f27"/><rect x="288.19" y="1208.75" width="7.5" height="7.5" fill="#e32f27"/><rect x="313.07" y="1204.45" width="7.5" height="7.5" fill="#e32f27"/><rect x="337.95" y="1177.65" width="7.5" height="7.5" fill="#e32f27"/><rect x="362.83" y="1177.65" width="7.5" height="7.5" fill="#e32f27"/><rect x="387.71" y="1156.15" width="7.5" height="7.5" fill="#e32f27"/><rect x="412.59" y="1148.85" width="7.5" height="7.5" fill="#e32f27"/><rect x="437.47" y="1144.05" width="7.5" height="7.5" fill="#e32f27"/><rect x="462.35" y="1142.95" width="7.5" height="7.5" fill="#e32f27"/><rect x="487.23" y="1136.75" width="7.5" height="7.5" fill="#e32f27"/><rect x="512.11" y="1136.15" width="7.5" height="7.5" fill="#e32f27"/><rect x="536.99" y="1133.35" width="7.5" height="7.5" fill="#e32f27"/><rect x="561.87" y="1146.35" width="7.5" height="7.5" fill="#e32f27"/><rect x="586.75" y="1181.75" width="7.5" height="7.5" fill="#e32f27"/><rect x="611.63" y="1282.65" width="7.5" height="7.5" fill="#e32f27"/><rect x="636.51" y="1435.15" width="7.5" height="7.5" fill="#e32f27"/><rect x="661.39" y="1495.55" width="7.5" height="7.5" fill="#e32f27"/><rect x="686.27" y="1509.85" width="7.5" height="7.5" fill="#e32f27"/>
<polyline points="92.9,1119.8 117.78,1119.8 142.66,1119.8 167.54,1119.8 192.42,1119.8 217.3,1119.8 242.18,1119.8 267.06,1119.8 291.94,1119.8 316.82,1119.8 341.7,1119.8 366.58,1119.8 391.46,1119.8 416.34,1119.8 441.22,1119.8 466.1,1119.8 490.98,1119.8 515.86,1119.8 540.74,1119.8 565.62,1119.8 590.5,1119.8 615.38,1119.8 640.26,1120.3 665.14,1121 690.02,1122" fill="none" stroke="#fb9f81" stroke-width="2.0" stroke-linejoin="round" stroke-dasharray="7.4 2.9" stroke-dashoffset="6.8"/>
<polyline points="92.9,1119.8 117.78,1119.8 142.66,1119.8 167.54,1119.8 192.42,1119.8 217.3,1119.8 242.18,1119.8 267.06,1119.8 291.94,1119.8 316.82,1119.8 341.7,1119.8 366.58,1119.8 391.46,1119.8 416.34,1119.8 441.22,1119.8 466.1,1119.8 490.98,1119.8 515.86,1119.8 540.74,1119.8 565.62,1119.8 590.5,1119.8 615.38,1121.2 640.26,1126.8 665.14,1150.6 690.02,1225" fill="none" stroke="#fb6a4a" stroke-width="2.0" stroke-linejoin="round" stroke-dasharray="7.4 2.9" stroke-dashoffset="3.4"/>
<polyline points="92.9,1119.8 117.78,1119.8 142.66,1119.8 167.54,1119.8 192.42,1119.8 217.3,1119.8 242.18,1119.8 267.06,1119.8 291.94,1119.8 316.82,1119.8 341.7,1119.8 366.58,1119.8 391.46,1119.8 416.34,1119.8 441.22,1119.8 466.1,1119.8 490.98,1119.8 515.86,1119.8 540.74,1123.2 565.62,1131.3 590.5,1166.6 615.38,1277 640.26,1421 665.14,1496 690.02,1515.7" fill="none" stroke="#e32f27" stroke-width="2.0" stroke-linejoin="round" stroke-dasharray="7.4 2.9" stroke-dashoffset="0"/>
<line x1="92.9" y1="1119.8" x2="714.5" y2="1119.8" stroke="#000" stroke-width="1.4" stroke-dasharray="4.2 1.6" stroke-opacity="0.6"/>
<g transform="translate(159.6,1151) scale(1.0)"><path d="M0.5,-7.9 C1.2,-10.3 2.2,-11.3 3.3,-11.3 C4.7,-11.3 4.7,-8.6 4.9,-5.0" fill="none" stroke="#000" stroke-width="1.25" stroke-linecap="round"/><path d="M10.6,-10.9 L2.8,3.4" fill="none" stroke="#000" stroke-width="2.3" stroke-linecap="round"/><ellipse cx="2.5" cy="3.4" rx="1.55" ry="1.9" transform="rotate(25 2.5 3.4)"/></g><rect x="174.8" y="1141" width="15.8" height="1.6"/><rect x="174.8" y="1146" width="15.8" height="1.6"/><path d="M198.2 1144.1L201.2 1142L207.2 1156.4" stroke="#000" stroke-width="2.1" fill="none" stroke-linejoin="miter"/><path d="M207.2 1156.4L219.1 1126.6L239.1 1126.6" stroke="#000" stroke-width="1.25" fill="none"/><text transform="matrix(1.1184 0 0 1 222.21 1151)" font-size="26.6" fill="#000">2</text>
<text transform="matrix(0.9951 0 0 1 92.51 1408)" font-size="26.6" font-style="italic" fill="#000">α</text><rect x="111.5" y="1398" width="15.7" height="1.6"/><rect x="111.5" y="1403.3" width="15.7" height="1.6"/><text transform="matrix(0.9774 0 0 1 131.36 1408)" font-size="26.6" fill="#000">2</text><text transform="matrix(0.9543 0 0 1 144.35 1408)" font-size="26.6" font-style="italic" fill="#000">H</text><rect x="167.6" y="1398" width="15.7" height="1.6"/><rect x="167.6" y="1403.3" width="15.7" height="1.6"/><text transform="matrix(1.0297 0 0 1 187.75 1408)" font-size="26.6" fill="#000">4</text><path d="M202.5 1408.2L206.8 1390.8" stroke="#000" stroke-width="1.45" fill="none"/><text transform="matrix(0.9536 0 0 1 210.33 1408)" font-size="26.6" fill="#000">3</text>
<rect x="89.6" y="1422" width="479.8" height="93.4" fill="#fff" stroke="#000" stroke-width="1.2"/>
<line x1="99.7" y1="1445.3" x2="152.6" y2="1445.3" stroke="#000000" stroke-width="1.1"/>
<rect x="122.4" y="1441.55" width="7.5" height="7.5" fill="#000000"/>
<text transform="matrix(0.9744 0 0 1 172.62 1453.6)" font-size="26.6" font-style="italic" fill="#000">σ</text><text transform="matrix(1.0753 0 0 1 186.8 1444.4)" font-size="18.6" fill="#000">2</text><text transform="matrix(1.0339 0 0 1 185.02 1460.2)" font-size="18.6" font-style="italic" fill="#000">e</text><rect x="201.9" y="1443.5" width="15.5" height="1.6"/><rect x="201.9" y="1448.7" width="15.5" height="1.6"/><text transform="matrix(1.0920 0 0 1 221.24 1453.6)" font-size="26.6" fill="#000">0</text>
<line x1="99.7" y1="1488.3" x2="152.6" y2="1488.3" stroke="#fb9f81" stroke-width="1.1"/>
<rect x="122.4" y="1484.55" width="7.5" height="7.5" fill="#fb9f81"/>
<text transform="matrix(0.9744 0 0 1 172.62 1496.6)" font-size="26.6" font-style="italic" fill="#000">σ</text><text transform="matrix(1.0753 0 0 1 186.8 1487.4)" font-size="18.6" fill="#000">2</text><text transform="matrix(1.0339 0 0 1 185.02 1503.2)" font-size="18.6" font-style="italic" fill="#000">e</text><rect x="201.9" y="1486.5" width="15.5" height="1.6"/><rect x="201.9" y="1491.7" width="15.5" height="1.6"/><text transform="matrix(1.0526 0 0 1 221.28 1496.6)" font-size="26.6" fill="#000">2</text><path d="M239.8 1483.4L252.4 1495.8M252.4 1483.4L239.8 1495.8" stroke="#000" stroke-width="1.55" fill="none"/><text transform="matrix(0.9679 0 0 1 258.68 1496.6)" font-size="26.6" fill="#000">10</text><rect x="285" y="1482.35" width="7.9" height="1.3"/><text transform="matrix(1.0618 0 0 1 295.41 1487.3)" font-size="18.6" fill="#000">2</text>
<line x1="361" y1="1445.3" x2="413.7" y2="1445.3" stroke="#fb6a4a" stroke-width="1.1"/>
<rect x="383.6" y="1441.55" width="7.5" height="7.5" fill="#fb6a4a"/>
<text transform="matrix(0.9744 0 0 1 433.62 1453.6)" font-size="26.6" font-style="italic" fill="#000">σ</text><text transform="matrix(1.0753 0 0 1 447.8 1444.4)" font-size="18.6" fill="#000">2</text><text transform="matrix(1.0339 0 0 1 446.02 1460.2)" font-size="18.6" font-style="italic" fill="#000">e</text><rect x="462.9" y="1443.5" width="15.5" height="1.6"/><rect x="462.9" y="1448.7" width="15.5" height="1.6"/><text transform="matrix(1.0526 0 0 1 482.28 1453.6)" font-size="26.6" fill="#000">2</text><path d="M500.8 1440.4L513.4 1452.8M513.4 1440.4L500.8 1452.8" stroke="#000" stroke-width="1.55" fill="none"/><text transform="matrix(0.9679 0 0 1 519.68 1453.6)" font-size="26.6" fill="#000">10</text><text transform="matrix(0.9473 0 0 1 546.1 1444.3)" font-size="18.6" fill="#000">0</text>
<line x1="361" y1="1488.3" x2="413.7" y2="1488.3" stroke="#e32f27" stroke-width="1.1"/>
<rect x="383.6" y="1484.55" width="7.5" height="7.5" fill="#e32f27"/>
<text transform="matrix(0.9744 0 0 1 433.62 1496.6)" font-size="26.6" font-style="italic" fill="#000">σ</text><text transform="matrix(1.0753 0 0 1 447.8 1487.4)" font-size="18.6" fill="#000">2</text><text transform="matrix(1.0339 0 0 1 446.02 1503.2)" font-size="18.6" font-style="italic" fill="#000">e</text><rect x="462.9" y="1486.5" width="15.5" height="1.6"/><rect x="462.9" y="1491.7" width="15.5" height="1.6"/><text transform="matrix(1.0526 0 0 1 482.28 1496.6)" font-size="26.6" fill="#000">2</text><path d="M500.8 1483.4L513.4 1495.8M513.4 1483.4L500.8 1495.8" stroke="#000" stroke-width="1.55" fill="none"/><text transform="matrix(0.9679 0 0 1 519.68 1496.6)" font-size="26.6" fill="#000">10</text><text transform="matrix(0.9946 0 0 1 546.06 1487.3)" font-size="18.6" fill="#000">2</text>
<rect x="845.8" y="1105.1" width="652.8" height="423.5" fill="none" stroke="#000" stroke-width="1.0"/>
<line x1="841.2" y1="1528.1" x2="845.8" y2="1528.1" stroke="#000" stroke-width="1.2"/>
<text x="836.2" y="1537.1" font-size="26.8" text-anchor="end" textLength="31.4" lengthAdjust="spacingAndGlyphs">1.0</text>
<line x1="841.2" y1="1438" x2="845.8" y2="1438" stroke="#000" stroke-width="1.2"/>
<text x="836.2" y="1447" font-size="26.8" text-anchor="end" textLength="31.4" lengthAdjust="spacingAndGlyphs">1.1</text>
<line x1="841.2" y1="1347.9" x2="845.8" y2="1347.9" stroke="#000" stroke-width="1.2"/>
<text x="836.2" y="1356.9" font-size="26.8" text-anchor="end" textLength="31.4" lengthAdjust="spacingAndGlyphs">1.2</text>
<line x1="841.2" y1="1257.8" x2="845.8" y2="1257.8" stroke="#000" stroke-width="1.2"/>
<text x="836.2" y="1266.8" font-size="26.8" text-anchor="end" textLength="31.4" lengthAdjust="spacingAndGlyphs">1.3</text>
<line x1="841.2" y1="1167.7" x2="845.8" y2="1167.7" stroke="#000" stroke-width="1.2"/>
<text x="836.2" y="1176.7" font-size="26.8" text-anchor="end" textLength="31.4" lengthAdjust="spacingAndGlyphs">1.4</text>
<line x1="875.93" y1="1528.6" x2="875.93" y2="1531.5" stroke="#000" stroke-width="0.9"/>
<line x1="899.75" y1="1528.6" x2="899.75" y2="1531.5" stroke="#000" stroke-width="0.9"/>
<line x1="916.66" y1="1528.6" x2="916.66" y2="1531.5" stroke="#000" stroke-width="0.9"/>
<line x1="929.77" y1="1528.6" x2="929.77" y2="1531.5" stroke="#000" stroke-width="0.9"/>
<line x1="940.48" y1="1528.6" x2="940.48" y2="1531.5" stroke="#000" stroke-width="0.9"/>
<line x1="949.54" y1="1528.6" x2="949.54" y2="1531.5" stroke="#000" stroke-width="0.9"/>
<line x1="957.39" y1="1528.6" x2="957.39" y2="1531.5" stroke="#000" stroke-width="0.9"/>
<line x1="964.31" y1="1528.6" x2="964.31" y2="1531.5" stroke="#000" stroke-width="0.9"/>
<line x1="970.5" y1="1528.6" x2="970.5" y2="1533.2" stroke="#000" stroke-width="1.2"/>
<text transform="matrix(0.9950 0 0 1 951.9 1554.6)" font-size="26.8" fill="#000">10</text>
<text transform="matrix(0.7834 0 0 1 978.49 1546.2)" font-size="18.6" fill="#000">1</text>
<line x1="1011.23" y1="1528.6" x2="1011.23" y2="1531.5" stroke="#000" stroke-width="0.9"/>
<line x1="1035.05" y1="1528.6" x2="1035.05" y2="1531.5" stroke="#000" stroke-width="0.9"/>
<line x1="1051.96" y1="1528.6" x2="1051.96" y2="1531.5" stroke="#000" stroke-width="0.9"/>
<line x1="1065.07" y1="1528.6" x2="1065.07" y2="1531.5" stroke="#000" stroke-width="0.9"/>
<line x1="1075.78" y1="1528.6" x2="1075.78" y2="1531.5" stroke="#000" stroke-width="0.9"/>
<line x1="1084.84" y1="1528.6" x2="1084.84" y2="1531.5" stroke="#000" stroke-width="0.9"/>
<line x1="1092.69" y1="1528.6" x2="1092.69" y2="1531.5" stroke="#000" stroke-width="0.9"/>
<line x1="1099.61" y1="1528.6" x2="1099.61" y2="1531.5" stroke="#000" stroke-width="0.9"/>
<line x1="1105.8" y1="1528.6" x2="1105.8" y2="1533.2" stroke="#000" stroke-width="1.2"/>
<text transform="matrix(0.9950 0 0 1 1087.2 1554.6)" font-size="26.8" fill="#000">10</text>
<text transform="matrix(0.6855 0 0 1 1114.59 1546.2)" font-size="18.6" fill="#000">2</text>
<line x1="1146.53" y1="1528.6" x2="1146.53" y2="1531.5" stroke="#000" stroke-width="0.9"/>
<line x1="1170.35" y1="1528.6" x2="1170.35" y2="1531.5" stroke="#000" stroke-width="0.9"/>
<line x1="1187.26" y1="1528.6" x2="1187.26" y2="1531.5" stroke="#000" stroke-width="0.9"/>
<line x1="1200.37" y1="1528.6" x2="1200.37" y2="1531.5" stroke="#000" stroke-width="0.9"/>
<line x1="1211.08" y1="1528.6" x2="1211.08" y2="1531.5" stroke="#000" stroke-width="0.9"/>
<line x1="1220.14" y1="1528.6" x2="1220.14" y2="1531.5" stroke="#000" stroke-width="0.9"/>
<line x1="1227.99" y1="1528.6" x2="1227.99" y2="1531.5" stroke="#000" stroke-width="0.9"/>
<line x1="1234.91" y1="1528.6" x2="1234.91" y2="1531.5" stroke="#000" stroke-width="0.9"/>
<line x1="1241.1" y1="1528.6" x2="1241.1" y2="1533.2" stroke="#000" stroke-width="1.2"/>
<text transform="matrix(0.9950 0 0 1 1222.5 1554.6)" font-size="26.8" fill="#000">10</text>
<text transform="matrix(0.6688 0 0 1 1249.78 1546.2)" font-size="18.6" fill="#000">3</text>
<line x1="1281.83" y1="1528.6" x2="1281.83" y2="1531.5" stroke="#000" stroke-width="0.9"/>
<line x1="1305.65" y1="1528.6" x2="1305.65" y2="1531.5" stroke="#000" stroke-width="0.9"/>
<line x1="1322.56" y1="1528.6" x2="1322.56" y2="1531.5" stroke="#000" stroke-width="0.9"/>
<line x1="1335.67" y1="1528.6" x2="1335.67" y2="1531.5" stroke="#000" stroke-width="0.9"/>
<line x1="1346.38" y1="1528.6" x2="1346.38" y2="1531.5" stroke="#000" stroke-width="0.9"/>
<line x1="1355.44" y1="1528.6" x2="1355.44" y2="1531.5" stroke="#000" stroke-width="0.9"/>
<line x1="1363.29" y1="1528.6" x2="1363.29" y2="1531.5" stroke="#000" stroke-width="0.9"/>
<line x1="1370.21" y1="1528.6" x2="1370.21" y2="1531.5" stroke="#000" stroke-width="0.9"/>
<line x1="1376.4" y1="1528.6" x2="1376.4" y2="1533.2" stroke="#000" stroke-width="1.2"/>
<text transform="matrix(0.9950 0 0 1 1357.8 1554.6)" font-size="26.8" fill="#000">10</text>
<text transform="matrix(0.5961 0 0 1 1385.48 1546.2)" font-size="18.6" fill="#000">4</text>
<line x1="1417.13" y1="1528.6" x2="1417.13" y2="1531.5" stroke="#000" stroke-width="0.9"/>
<line x1="1440.95" y1="1528.6" x2="1440.95" y2="1531.5" stroke="#000" stroke-width="0.9"/>
<line x1="1457.86" y1="1528.6" x2="1457.86" y2="1531.5" stroke="#000" stroke-width="0.9"/>
<line x1="1470.97" y1="1528.6" x2="1470.97" y2="1531.5" stroke="#000" stroke-width="0.9"/>
<line x1="1481.68" y1="1528.6" x2="1481.68" y2="1531.5" stroke="#000" stroke-width="0.9"/>
<line x1="1490.74" y1="1528.6" x2="1490.74" y2="1531.5" stroke="#000" stroke-width="0.9"/>
<line x1="1498.59" y1="1528.6" x2="1498.59" y2="1531.5" stroke="#000" stroke-width="0.9"/>
<text transform="matrix(0.4158 0 0 0.3120 1152.63 1587.75)" font-size="100" font-style="italic">f</text>
<text transform="matrix(0.3444 0 0 0.3262 1168.89 1587.5)" font-size="100" font-style="italic">T</text>
<g transform="translate(791.79,1323.67) rotate(-90) scale(1.223529411764706)"><path d="M0.5,-7.9 C1.2,-10.3 2.2,-11.3 3.3,-11.3 C4.7,-11.3 4.7,-8.6 4.9,-5.0" fill="none" stroke="#000" stroke-width="1.25" stroke-linecap="round"/><path d="M10.6,-10.9 L2.8,3.4" fill="none" stroke="#000" stroke-width="2.3" stroke-linecap="round"/><ellipse cx="2.5" cy="3.4" rx="1.55" ry="1.9" transform="rotate(25 2.5 3.4)"/></g>
<text transform="matrix(0.3956 0 0 0.3747 760.42 1572.23)" font-size="100" font-weight="bold">(f)</text>
<polyline points="1327.35,1211.4 1345.68,1202 1364.01,1208 1382.34,1200.7 1400.67,1195 1419,1195.4 1437.33,1190 1455.66,1191 1473.99,1185.1" fill="none" stroke="#000000" stroke-width="1.0" stroke-linejoin="round"/>
<rect x="1323.6" y="1207.65" width="7.5" height="7.5" fill="#000000"/><rect x="1341.93" y="1198.25" width="7.5" height="7.5" fill="#000000"/><rect x="1360.26" y="1204.25" width="7.5" height="7.5" fill="#000000"/><rect x="1378.59" y="1196.95" width="7.5" height="7.5" fill="#000000"/><rect x="1396.92" y="1191.25" width="7.5" height="7.5" fill="#000000"/><rect x="1415.25" y="1191.65" width="7.5" height="7.5" fill="#000000"/><rect x="1433.58" y="1186.25" width="7.5" height="7.5" fill="#000000"/><rect x="1451.91" y="1187.25" width="7.5" height="7.5" fill="#000000"/><rect x="1470.24" y="1181.35" width="7.5" height="7.5" fill="#000000"/>
<polyline points="869.1,1175.5 887.43,1175.5 905.76,1182 924.09,1225 942.42,1279.5 960.75,1356.9 979.08,1377.6 997.41,1355.1 1015.74,1328.2 1034.07,1314 1052.4,1310.9 1070.73,1290 1089.06,1275.4 1107.39,1277.6 1125.72,1272.5 1144.05,1268.1 1162.38,1251.2 1180.71,1233.9 1199.04,1237.3 1217.37,1225.6 1235.7,1230.7 1254.03,1224 1272.36,1221.6 1290.69,1215 1309.02,1216 1327.35,1211.4 1345.68,1200.7 1364.01,1208.7 1382.34,1197.6 1400.67,1188.7 1419,1188.7 1437.33,1182.7 1455.66,1175.3 1473.99,1178.4" fill="none" stroke="#6aaed6" stroke-width="1.0" stroke-linejoin="round"/>
<rect x="865.35" y="1171.75" width="7.5" height="7.5" fill="#6aaed6"/><rect x="883.68" y="1171.75" width="7.5" height="7.5" fill="#6aaed6"/><rect x="902.01" y="1178.25" width="7.5" height="7.5" fill="#6aaed6"/><rect x="920.34" y="1221.25" width="7.5" height="7.5" fill="#6aaed6"/><rect x="938.67" y="1275.75" width="7.5" height="7.5" fill="#6aaed6"/><rect x="957" y="1353.15" width="7.5" height="7.5" fill="#6aaed6"/><rect x="975.33" y="1373.85" width="7.5" height="7.5" fill="#6aaed6"/><rect x="993.66" y="1351.35" width="7.5" height="7.5" fill="#6aaed6"/><rect x="1011.99" y="1324.45" width="7.5" height="7.5" fill="#6aaed6"/><rect x="1030.32" y="1310.25" width="7.5" height="7.5" fill="#6aaed6"/><rect x="1048.65" y="1307.15" width="7.5" height="7.5" fill="#6aaed6"/><rect x="1066.98" y="1286.25" width="7.5" height="7.5" fill="#6aaed6"/><rect x="1085.31" y="1271.65" width="7.5" height="7.5" fill="#6aaed6"/><rect x="1103.64" y="1273.85" width="7.5" height="7.5" fill="#6aaed6"/><rect x="1121.97" y="1268.75" width="7.5" height="7.5" fill="#6aaed6"/><rect x="1140.3" y="1264.35" width="7.5" height="7.5" fill="#6aaed6"/><rect x="1158.63" y="1247.45" width="7.5" height="7.5" fill="#6aaed6"/><rect x="1176.96" y="1230.15" width="7.5" height="7.5" fill="#6aaed6"/><rect x="1195.29" y="1233.55" width="7.5" height="7.5" fill="#6aaed6"/><rect x="1213.62" y="1221.85" width="7.5" height="7.5" fill="#6aaed6"/><rect x="1231.95" y="1226.95" width="7.5" height="7.5" fill="#6aaed6"/><rect x="1250.28" y="1220.25" width="7.5" height="7.5" fill="#6aaed6"/><rect x="1268.61" y="1217.85" width="7.5" height="7.5" fill="#6aaed6"/><rect x="1286.94" y="1211.25" width="7.5" height="7.5" fill="#6aaed6"/><rect x="1305.27" y="1212.25" width="7.5" height="7.5" fill="#6aaed6"/><rect x="1323.6" y="1207.65" width="7.5" height="7.5" fill="#6aaed6"/><rect x="1341.93" y="1196.95" width="7.5" height="7.5" fill="#6aaed6"/><rect x="1360.26" y="1204.95" width="7.5" height="7.5" fill="#6aaed6"/><rect x="1378.59" y="1193.85" width="7.5" height="7.5" fill="#6aaed6"/><rect x="1396.92" y="1184.95" width="7.5" height="7.5" fill="#6aaed6"/><rect x="1415.25" y="1184.95" width="7.5" height="7.5" fill="#6aaed6"/><rect x="1433.58" y="1178.95" width="7.5" height="7.5" fill="#6aaed6"/><rect x="1451.91" y="1171.55" width="7.5" height="7.5" fill="#6aaed6"/><rect x="1470.24" y="1174.65" width="7.5" height="7.5" fill="#6aaed6"/>
<polyline points="869.1,1174.5 887.43,1174.5 905.76,1181.5 924.09,1224.5 942.42,1286.4 960.75,1369.6 979.08,1391.8 997.41,1364.5 1015.74,1337.8 1034.07,1356 1052.4,1345.8 1070.73,1347.8 1089.06,1330.5 1107.39,1335.6 1125.72,1325.3 1144.05,1299.6 1162.38,1289.4 1180.71,1258.6 1199.04,1267.4 1217.37,1243.2 1235.7,1206.5 1254.03,1241 1272.36,1234 1290.69,1240.7 1309.02,1238.5 1327.35,1232.7 1345.68,1241.7 1364.01,1232.7 1382.34,1233.4 1400.67,1226 1419,1203.4 1437.33,1210.7 1455.66,1203.8 1473.99,1206.7" fill="none" stroke="#3787c0" stroke-width="1.0" stroke-linejoin="round"/>
<rect x="865.35" y="1170.75" width="7.5" height="7.5" fill="#3787c0"/><rect x="883.68" y="1170.75" width="7.5" height="7.5" fill="#3787c0"/><rect x="902.01" y="1177.75" width="7.5" height="7.5" fill="#3787c0"/><rect x="920.34" y="1220.75" width="7.5" height="7.5" fill="#3787c0"/><rect x="938.67" y="1282.65" width="7.5" height="7.5" fill="#3787c0"/><rect x="957" y="1365.85" width="7.5" height="7.5" fill="#3787c0"/><rect x="975.33" y="1388.05" width="7.5" height="7.5" fill="#3787c0"/><rect x="993.66" y="1360.75" width="7.5" height="7.5" fill="#3787c0"/><rect x="1011.99" y="1334.05" width="7.5" height="7.5" fill="#3787c0"/><rect x="1030.32" y="1352.25" width="7.5" height="7.5" fill="#3787c0"/><rect x="1048.65" y="1342.05" width="7.5" height="7.5" fill="#3787c0"/><rect x="1066.98" y="1344.05" width="7.5" height="7.5" fill="#3787c0"/><rect x="1085.31" y="1326.75" width="7.5" height="7.5" fill="#3787c0"/><rect x="1103.64" y="1331.85" width="7.5" height="7.5" fill="#3787c0"/><rect x="1121.97" y="1321.55" width="7.5" height="7.5" fill="#3787c0"/><rect x="1140.3" y="1295.85" width="7.5" height="7.5" fill="#3787c0"/><rect x="1158.63" y="1285.65" width="7.5" height="7.5" fill="#3787c0"/><rect x="1176.96" y="1254.85" width="7.5" height="7.5" fill="#3787c0"/><rect x="1195.29" y="1263.65" width="7.5" height="7.5" fill="#3787c0"/><rect x="1213.62" y="1239.45" width="7.5" height="7.5" fill="#3787c0"/><rect x="1231.95" y="1202.75" width="7.5" height="7.5" fill="#3787c0"/><rect x="1250.28" y="1237.25" width="7.5" height="7.5" fill="#3787c0"/><rect x="1268.61" y="1230.25" width="7.5" height="7.5" fill="#3787c0"/><rect x="1286.94" y="1236.95" width="7.5" height="7.5" fill="#3787c0"/><rect x="1305.27" y="1234.75" width="7.5" height="7.5" fill="#3787c0"/><rect x="1323.6" y="1228.95" width="7.5" height="7.5" fill="#3787c0"/><rect x="1341.93" y="1237.95" width="7.5" height="7.5" fill="#3787c0"/><rect x="1360.26" y="1228.95" width="7.5" height="7.5" fill="#3787c0"/><rect x="1378.59" y="1229.65" width="7.5" height="7.5" fill="#3787c0"/><rect x="1396.92" y="1222.25" width="7.5" height="7.5" fill="#3787c0"/><rect x="1415.25" y="1199.65" width="7.5" height="7.5" fill="#3787c0"/><rect x="1433.58" y="1206.95" width="7.5" height="7.5" fill="#3787c0"/><rect x="1451.91" y="1200.05" width="7.5" height="7.5" fill="#3787c0"/><rect x="1470.24" y="1202.95" width="7.5" height="7.5" fill="#3787c0"/>
<polyline points="869.1,1144.5 887.43,1144.5 905.76,1151.5 924.09,1194 942.42,1253.1 960.75,1332.7 979.08,1367.3 997.41,1367.6 1015.74,1342.7 1034.07,1364.5 1052.4,1298.2 1070.73,1288.2 1089.06,1281.3 1107.39,1253.4 1125.72,1310.7 1144.05,1299.6 1162.38,1289.4 1180.71,1265.9 1199.04,1228.5 1217.37,1213.4 1235.7,1236.6 1254.03,1222.2 1272.36,1232.5 1290.69,1209.1 1309.02,1214 1327.35,1195.8 1345.68,1195 1364.01,1184 1382.34,1213.4 1400.67,1200.7 1419,1177.3 1437.33,1177.3 1455.66,1180.7 1473.99,1172" fill="none" stroke="#1562a9" stroke-width="1.0" stroke-linejoin="round"/>
<rect x="865.35" y="1140.75" width="7.5" height="7.5" fill="#1562a9"/><rect x="883.68" y="1140.75" width="7.5" height="7.5" fill="#1562a9"/><rect x="902.01" y="1147.75" width="7.5" height="7.5" fill="#1562a9"/><rect x="920.34" y="1190.25" width="7.5" height="7.5" fill="#1562a9"/><rect x="938.67" y="1249.35" width="7.5" height="7.5" fill="#1562a9"/><rect x="957" y="1328.95" width="7.5" height="7.5" fill="#1562a9"/><rect x="975.33" y="1363.55" width="7.5" height="7.5" fill="#1562a9"/><rect x="993.66" y="1363.85" width="7.5" height="7.5" fill="#1562a9"/><rect x="1011.99" y="1338.95" width="7.5" height="7.5" fill="#1562a9"/><rect x="1030.32" y="1360.75" width="7.5" height="7.5" fill="#1562a9"/><rect x="1048.65" y="1294.45" width="7.5" height="7.5" fill="#1562a9"/><rect x="1066.98" y="1284.45" width="7.5" height="7.5" fill="#1562a9"/><rect x="1085.31" y="1277.55" width="7.5" height="7.5" fill="#1562a9"/><rect x="1103.64" y="1249.65" width="7.5" height="7.5" fill="#1562a9"/><rect x="1121.97" y="1306.95" width="7.5" height="7.5" fill="#1562a9"/><rect x="1140.3" y="1295.85" width="7.5" height="7.5" fill="#1562a9"/><rect x="1158.63" y="1285.65" width="7.5" height="7.5" fill="#1562a9"/><rect x="1176.96" y="1262.15" width="7.5" height="7.5" fill="#1562a9"/><rect x="1195.29" y="1224.75" width="7.5" height="7.5" fill="#1562a9"/><rect x="1213.62" y="1209.65" width="7.5" height="7.5" fill="#1562a9"/><rect x="1231.95" y="1232.85" width="7.5" height="7.5" fill="#1562a9"/><rect x="1250.28" y="1218.45" width="7.5" height="7.5" fill="#1562a9"/><rect x="1268.61" y="1228.75" width="7.5" height="7.5" fill="#1562a9"/><rect x="1286.94" y="1205.35" width="7.5" height="7.5" fill="#1562a9"/><rect x="1305.27" y="1210.25" width="7.5" height="7.5" fill="#1562a9"/><rect x="1323.6" y="1192.05" width="7.5" height="7.5" fill="#1562a9"/><rect x="1341.93" y="1191.25" width="7.5" height="7.5" fill="#1562a9"/><rect x="1360.26" y="1180.25" width="7.5" height="7.5" fill="#1562a9"/><rect x="1378.59" y="1209.65" width="7.5" height="7.5" fill="#1562a9"/><rect x="1396.92" y="1196.95" width="7.5" height="7.5" fill="#1562a9"/><rect x="1415.25" y="1173.55" width="7.5" height="7.5" fill="#1562a9"/><rect x="1433.58" y="1173.55" width="7.5" height="7.5" fill="#1562a9"/><rect x="1451.91" y="1176.95" width="7.5" height="7.5" fill="#1562a9"/><rect x="1470.24" y="1168.25" width="7.5" height="7.5" fill="#1562a9"/>
<line x1="845.8" y1="1155.3" x2="1472.1" y2="1155.3" stroke="#000" stroke-width="1.2" stroke-dasharray="3.7 1.6"/>
<g transform="translate(1390,1140.7) scale(1.0)"><path d="M0.5,-7.9 C1.2,-10.3 2.2,-11.3 3.3,-11.3 C4.7,-11.3 4.7,-8.6 4.9,-5.0" fill="none" stroke="#000" stroke-width="1.25" stroke-linecap="round"/><path d="M10.6,-10.9 L2.8,3.4" fill="none" stroke="#000" stroke-width="2.3" stroke-linecap="round"/><ellipse cx="2.5" cy="3.4" rx="1.55" ry="1.9" transform="rotate(25 2.5 3.4)"/></g><rect x="1405.2" y="1130.7" width="15.8" height="1.6"/><rect x="1405.2" y="1135.7" width="15.8" height="1.6"/><path d="M1428.6 1133.8L1431.6 1131.7L1437.6 1146.1" stroke="#000" stroke-width="2.1" fill="none" stroke-linejoin="miter"/><path d="M1437.6 1146.1L1449.5 1116.3L1469.5 1116.3" stroke="#000" stroke-width="1.25" fill="none"/><text transform="matrix(1.1184 0 0 1 1452.61 1140.7)" font-size="26.6" fill="#000">2</text>
<text transform="matrix(0.9951 0 0 1 1349.31 1415.3)" font-size="26.6" font-style="italic" fill="#000">α</text><rect x="1368.3" y="1405.3" width="15.7" height="1.6"/><rect x="1368.3" y="1410.6" width="15.7" height="1.6"/><text transform="matrix(0.9774 0 0 1 1388.16 1415.3)" font-size="26.6" fill="#000">2</text><text transform="matrix(0.9543 0 0 1 1401.15 1415.3)" font-size="26.6" font-style="italic" fill="#000">H</text><rect x="1424.4" y="1405.3" width="15.7" height="1.6"/><rect x="1424.4" y="1410.6" width="15.7" height="1.6"/><text transform="matrix(1.0297 0 0 1 1444.55 1415.3)" font-size="26.6" fill="#000">4</text><path d="M1459.3 1415.5L1463.6 1398.1" stroke="#000" stroke-width="1.45" fill="none"/><text transform="matrix(0.9536 0 0 1 1467.13 1415.3)" font-size="26.6" fill="#000">3</text>
<rect x="1129.4" y="1429.7" width="356" height="85.5" fill="#fff" stroke="#000" stroke-width="1.2"/>
<line x1="1139.7" y1="1451.2" x2="1192.1" y2="1451.2" stroke="#000000" stroke-width="1.1"/>
<rect x="1162.15" y="1447.45" width="7.5" height="7.5" fill="#000000"/>
<text transform="matrix(1.0669 0 0 1 1212.43 1459.7)" font-size="26.6" font-style="italic" fill="#000">τ</text><text transform="matrix(1.0615 0 0 1 1222.71 1463)" font-size="18.6" font-style="italic" fill="#000">e</text><rect x="1237.1" y="1449.7" width="15.2" height="1.6"/><rect x="1237.1" y="1454.85" width="15.2" height="1.6"/><text transform="matrix(1.0920 0 0 1 1256.34 1459.7)" font-size="26.6" fill="#000">0</text>
<line x1="1139.7" y1="1490.6" x2="1192.1" y2="1490.6" stroke="#6aaed6" stroke-width="1.1"/>
<rect x="1162.15" y="1486.85" width="7.5" height="7.5" fill="#6aaed6"/>
<text transform="matrix(1.0669 0 0 1 1212.43 1499.1)" font-size="26.6" font-style="italic" fill="#000">τ</text><text transform="matrix(1.0615 0 0 1 1222.71 1502.4)" font-size="18.6" font-style="italic" fill="#000">e</text><rect x="1237.1" y="1489.1" width="15.2" height="1.6"/><rect x="1237.1" y="1494.25" width="15.2" height="1.6"/><text transform="matrix(1.0526 0 0 1 1256.38 1499.1)" font-size="26.6" fill="#000">2</text><text transform="matrix(1.0359 0 0 1 1270.14 1490.5)" font-size="18.6" fill="#000">3</text>
<line x1="1333.7" y1="1451.2" x2="1385.5" y2="1451.2" stroke="#3787c0" stroke-width="1.1"/>
<rect x="1355.85" y="1447.45" width="7.5" height="7.5" fill="#3787c0"/>
<text transform="matrix(1.0669 0 0 1 1405.93 1459.7)" font-size="26.6" font-style="italic" fill="#000">τ</text><text transform="matrix(1.0615 0 0 1 1416.21 1463)" font-size="18.6" font-style="italic" fill="#000">e</text><rect x="1430.6" y="1449.7" width="15.2" height="1.6"/><rect x="1430.6" y="1454.85" width="15.2" height="1.6"/><text transform="matrix(1.0526 0 0 1 1449.88 1459.7)" font-size="26.6" fill="#000">2</text><text transform="matrix(0.9877 0 0 1 1463.87 1451.1)" font-size="18.6" fill="#000">6</text>
<line x1="1333.7" y1="1490.6" x2="1385.5" y2="1490.6" stroke="#1562a9" stroke-width="1.1"/>
<rect x="1355.85" y="1486.85" width="7.5" height="7.5" fill="#1562a9"/>
<text transform="matrix(1.0669 0 0 1 1405.93 1499.1)" font-size="26.6" font-style="italic" fill="#000">τ</text><text transform="matrix(1.0615 0 0 1 1416.21 1502.4)" font-size="18.6" font-style="italic" fill="#000">e</text><rect x="1430.6" y="1489.1" width="15.2" height="1.6"/><rect x="1430.6" y="1494.25" width="15.2" height="1.6"/><text transform="matrix(1.0526 0 0 1 1449.88 1499.1)" font-size="26.6" fill="#000">2</text><text transform="matrix(0.9877 0 0 1 1464.05 1490.5)" font-size="18.6" fill="#000">9</text>
</svg></body></html>
